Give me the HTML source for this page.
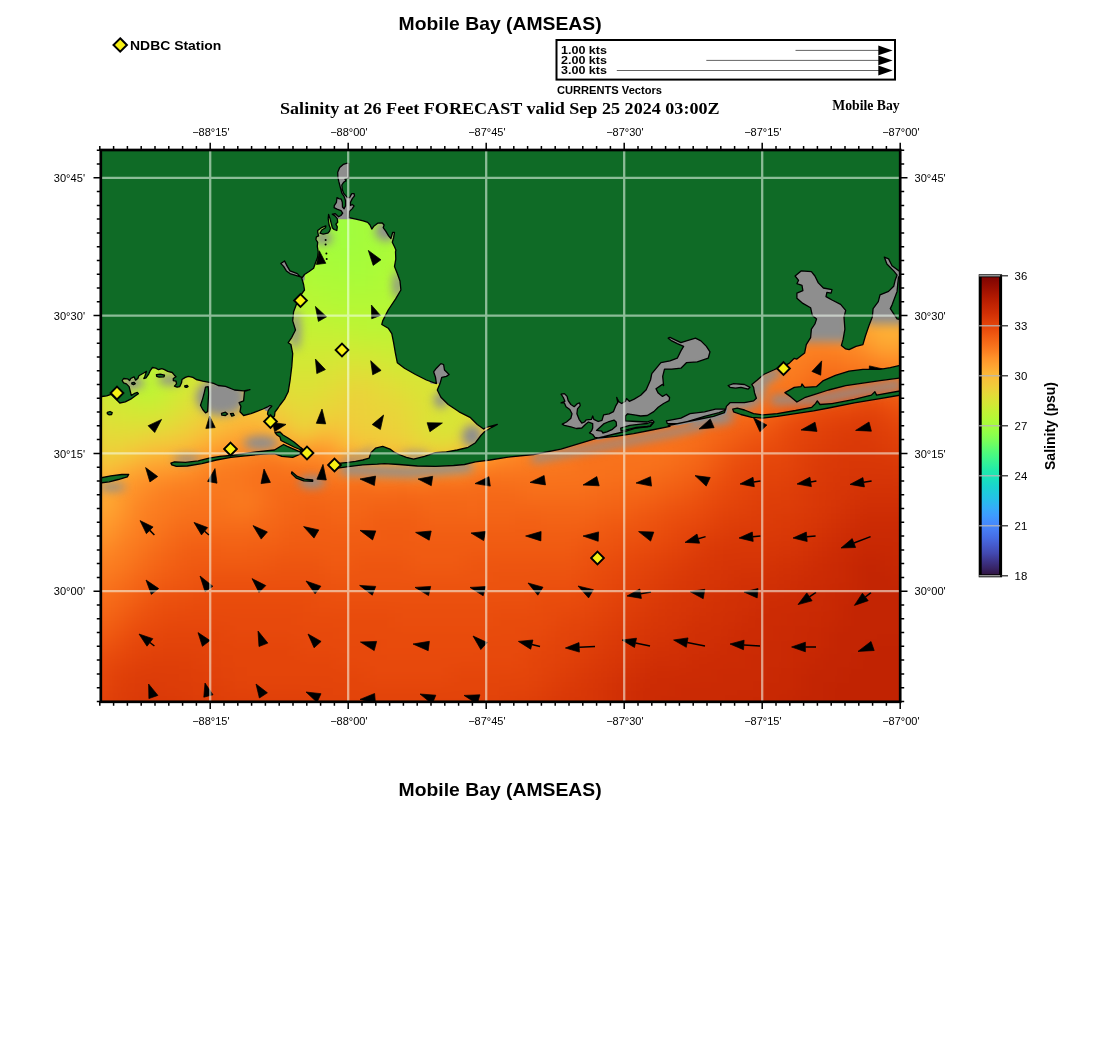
<!DOCTYPE html>
<html lang="en"><head><meta charset="utf-8"><title>Mobile Bay (AMSEAS)</title>
<style>
html,body{margin:0;padding:0;background:#fff}
body{width:1100px;height:1050px;overflow:hidden;font-family:"Liberation Sans",sans-serif}
svg{display:block}
.h{font-family:"Liberation Sans",sans-serif}
.t{font-family:"Liberation Serif",serif;font-weight:bold}
.ax{font-family:"Liberation Sans",sans-serif;font-size:10.6px;fill:#000}
</style></head><body>
<svg width="1100" height="1050" viewBox="0 0 1100 1050">
<defs>
<clipPath id="mc"><rect x="100.8" y="150" width="799.4" height="551.8"/></clipPath>
<filter id="bl" color-interpolation-filters="sRGB" x="-5%" y="-5%" width="110%" height="110%"><feGaussianBlur stdDeviation="9"/></filter>
<filter id="bg" color-interpolation-filters="sRGB" x="-30%" y="-30%" width="160%" height="160%"><feGaussianBlur stdDeviation="5"/></filter>
<linearGradient id="cb" x1="0" y1="1" x2="0" y2="0">
<stop offset="0.000" stop-color="#30123b"/>
<stop offset="0.025" stop-color="#372466"/>
<stop offset="0.050" stop-color="#3d358b"/>
<stop offset="0.075" stop-color="#4249b1"/>
<stop offset="0.100" stop-color="#4559cb"/>
<stop offset="0.125" stop-color="#466be3"/>
<stop offset="0.150" stop-color="#477bf2"/>
<stop offset="0.175" stop-color="#458afc"/>
<stop offset="0.200" stop-color="#3e9bfe"/>
<stop offset="0.225" stop-color="#35abf8"/>
<stop offset="0.250" stop-color="#28bceb"/>
<stop offset="0.275" stop-color="#1fc9dd"/>
<stop offset="0.300" stop-color="#19d5cd"/>
<stop offset="0.325" stop-color="#19e2bb"/>
<stop offset="0.350" stop-color="#20eaac"/>
<stop offset="0.375" stop-color="#32f298"/>
<stop offset="0.400" stop-color="#46f884"/>
<stop offset="0.425" stop-color="#5dfc6f"/>
<stop offset="0.450" stop-color="#79fe59"/>
<stop offset="0.475" stop-color="#8fff49"/>
<stop offset="0.500" stop-color="#a4fc3c"/>
<stop offset="0.525" stop-color="#b4f836"/>
<stop offset="0.550" stop-color="#c3f134"/>
<stop offset="0.575" stop-color="#d4e735"/>
<stop offset="0.600" stop-color="#e1dd37"/>
<stop offset="0.625" stop-color="#eecf3a"/>
<stop offset="0.650" stop-color="#f6c33a"/>
<stop offset="0.675" stop-color="#fbb637"/>
<stop offset="0.700" stop-color="#fea431"/>
<stop offset="0.725" stop-color="#fe932a"/>
<stop offset="0.750" stop-color="#fb7e21"/>
<stop offset="0.775" stop-color="#f66c19"/>
<stop offset="0.800" stop-color="#f05b12"/>
<stop offset="0.825" stop-color="#e7490c"/>
<stop offset="0.850" stop-color="#dd3d08"/>
<stop offset="0.875" stop-color="#d02f05"/>
<stop offset="0.900" stop-color="#c32503"/>
<stop offset="0.925" stop-color="#b41b01"/>
<stop offset="0.950" stop-color="#a11201"/>
<stop offset="0.975" stop-color="#8e0a01"/>
<stop offset="1.000" stop-color="#7a0403"/>
</linearGradient></defs>
<rect width="1100" height="1050" fill="#fff"/>
<g clip-path="url(#mc)">
<rect x="90" y="140" width="820" height="572" fill="#e4450a"/>
<g filter="url(#bl)">
<rect x="87" y="136" width="15" height="15" fill="#a7fc3a"/>
<rect x="101" y="136" width="99" height="15" fill="#a4fc3c"/>
<rect x="199" y="136" width="155" height="15" fill="#9ffd3f"/>
<rect x="353" y="136" width="15" height="15" fill="#a4fc3c"/>
<rect x="367" y="136" width="15" height="15" fill="#a7fc3a"/>
<rect x="381" y="136" width="15" height="15" fill="#a9fb39"/>
<rect x="395" y="136" width="15" height="15" fill="#affa37"/>
<rect x="409" y="136" width="15" height="15" fill="#b1f936"/>
<rect x="423" y="136" width="15" height="15" fill="#b7f735"/>
<rect x="437" y="136" width="15" height="15" fill="#bcf534"/>
<rect x="451" y="136" width="15" height="15" fill="#c1f334"/>
<rect x="465" y="136" width="15" height="15" fill="#c8ef34"/>
<rect x="479" y="136" width="15" height="15" fill="#cbed34"/>
<rect x="493" y="136" width="15" height="15" fill="#d2e935"/>
<rect x="507" y="136" width="15" height="15" fill="#d4e735"/>
<rect x="521" y="136" width="15" height="15" fill="#dbe236"/>
<rect x="535" y="136" width="15" height="15" fill="#dfdf37"/>
<rect x="549" y="136" width="15" height="15" fill="#e1dd37"/>
<rect x="563" y="136" width="15" height="15" fill="#e5d938"/>
<rect x="577" y="136" width="15" height="15" fill="#e9d539"/>
<rect x="591" y="136" width="15" height="15" fill="#ecd13a"/>
<rect x="605" y="136" width="15" height="15" fill="#eecf3a"/>
<rect x="619" y="136" width="15" height="15" fill="#f1cb3a"/>
<rect x="633" y="136" width="29" height="15" fill="#f2c93a"/>
<rect x="661" y="136" width="15" height="15" fill="#f4c73a"/>
<rect x="675" y="136" width="29" height="15" fill="#f6c33a"/>
<rect x="703" y="136" width="29" height="15" fill="#f7c13a"/>
<rect x="731" y="136" width="29" height="15" fill="#f9bc39"/>
<rect x="759" y="136" width="43" height="15" fill="#faba39"/>
<rect x="801" y="136" width="85" height="15" fill="#fbb637"/>
<rect x="885" y="136" width="43" height="15" fill="#fcb336"/>
<rect x="87" y="150" width="57" height="15" fill="#a7fc3a"/>
<rect x="143" y="150" width="85" height="15" fill="#a4fc3c"/>
<rect x="227" y="150" width="127" height="15" fill="#9ffd3f"/>
<rect x="353" y="150" width="15" height="15" fill="#a4fc3c"/>
<rect x="367" y="150" width="15" height="15" fill="#a7fc3a"/>
<rect x="381" y="150" width="15" height="15" fill="#a9fb39"/>
<rect x="395" y="150" width="15" height="15" fill="#affa37"/>
<rect x="409" y="150" width="15" height="15" fill="#b1f936"/>
<rect x="423" y="150" width="15" height="15" fill="#b9f635"/>
<rect x="437" y="150" width="15" height="15" fill="#bcf534"/>
<rect x="451" y="150" width="15" height="15" fill="#c3f134"/>
<rect x="465" y="150" width="15" height="15" fill="#c8ef34"/>
<rect x="479" y="150" width="15" height="15" fill="#d0ea34"/>
<rect x="493" y="150" width="15" height="15" fill="#d2e935"/>
<rect x="507" y="150" width="15" height="15" fill="#d9e436"/>
<rect x="521" y="150" width="15" height="15" fill="#dbe236"/>
<rect x="535" y="150" width="15" height="15" fill="#e1dd37"/>
<rect x="549" y="150" width="15" height="15" fill="#e5d938"/>
<rect x="563" y="150" width="15" height="15" fill="#e7d739"/>
<rect x="577" y="150" width="15" height="15" fill="#ecd13a"/>
<rect x="591" y="150" width="15" height="15" fill="#eecf3a"/>
<rect x="605" y="150" width="15" height="15" fill="#f1cb3a"/>
<rect x="619" y="150" width="15" height="15" fill="#f2c93a"/>
<rect x="633" y="150" width="29" height="15" fill="#f4c73a"/>
<rect x="661" y="150" width="15" height="15" fill="#f6c33a"/>
<rect x="675" y="150" width="29" height="15" fill="#f7c13a"/>
<rect x="703" y="150" width="29" height="15" fill="#f9bc39"/>
<rect x="731" y="150" width="29" height="15" fill="#faba39"/>
<rect x="759" y="150" width="57" height="15" fill="#fbb637"/>
<rect x="815" y="150" width="113" height="15" fill="#fcb336"/>
<rect x="87" y="164" width="99" height="15" fill="#a7fc3a"/>
<rect x="185" y="164" width="71" height="15" fill="#a4fc3c"/>
<rect x="255" y="164" width="99" height="15" fill="#9ffd3f"/>
<rect x="353" y="164" width="15" height="15" fill="#a4fc3c"/>
<rect x="367" y="164" width="15" height="15" fill="#a7fc3a"/>
<rect x="381" y="164" width="15" height="15" fill="#a9fb39"/>
<rect x="395" y="164" width="15" height="15" fill="#affa37"/>
<rect x="409" y="164" width="15" height="15" fill="#b1f936"/>
<rect x="423" y="164" width="15" height="15" fill="#b9f635"/>
<rect x="437" y="164" width="15" height="15" fill="#bcf534"/>
<rect x="451" y="164" width="15" height="15" fill="#c3f134"/>
<rect x="465" y="164" width="15" height="15" fill="#cbed34"/>
<rect x="479" y="164" width="15" height="15" fill="#d0ea34"/>
<rect x="493" y="164" width="15" height="15" fill="#d4e735"/>
<rect x="507" y="164" width="15" height="15" fill="#dbe236"/>
<rect x="521" y="164" width="15" height="15" fill="#dfdf37"/>
<rect x="535" y="164" width="15" height="15" fill="#e5d938"/>
<rect x="549" y="164" width="15" height="15" fill="#e7d739"/>
<rect x="563" y="164" width="15" height="15" fill="#ecd13a"/>
<rect x="577" y="164" width="15" height="15" fill="#eecf3a"/>
<rect x="591" y="164" width="15" height="15" fill="#f1cb3a"/>
<rect x="605" y="164" width="15" height="15" fill="#f2c93a"/>
<rect x="619" y="164" width="15" height="15" fill="#f4c73a"/>
<rect x="633" y="164" width="15" height="15" fill="#f6c33a"/>
<rect x="647" y="164" width="29" height="15" fill="#f7c13a"/>
<rect x="675" y="164" width="29" height="15" fill="#f9bc39"/>
<rect x="703" y="164" width="29" height="15" fill="#faba39"/>
<rect x="731" y="164" width="29" height="15" fill="#fbb637"/>
<rect x="759" y="164" width="57" height="15" fill="#fcb336"/>
<rect x="815" y="164" width="113" height="15" fill="#fcb136"/>
<rect x="87" y="178" width="43" height="15" fill="#a9fb39"/>
<rect x="129" y="178" width="99" height="15" fill="#a7fc3a"/>
<rect x="227" y="178" width="43" height="15" fill="#a4fc3c"/>
<rect x="269" y="178" width="85" height="15" fill="#9ffd3f"/>
<rect x="353" y="178" width="29" height="15" fill="#a4fc3c"/>
<rect x="381" y="178" width="15" height="15" fill="#a9fb39"/>
<rect x="395" y="178" width="15" height="15" fill="#affa37"/>
<rect x="409" y="178" width="15" height="15" fill="#b1f936"/>
<rect x="423" y="178" width="15" height="15" fill="#b9f635"/>
<rect x="437" y="178" width="15" height="15" fill="#c1f334"/>
<rect x="451" y="178" width="15" height="15" fill="#c8ef34"/>
<rect x="465" y="178" width="15" height="15" fill="#cbed34"/>
<rect x="479" y="178" width="15" height="15" fill="#d2e935"/>
<rect x="493" y="178" width="15" height="15" fill="#d9e436"/>
<rect x="507" y="178" width="15" height="15" fill="#dfdf37"/>
<rect x="521" y="178" width="15" height="15" fill="#e1dd37"/>
<rect x="535" y="178" width="15" height="15" fill="#e7d739"/>
<rect x="549" y="178" width="15" height="15" fill="#e9d539"/>
<rect x="563" y="178" width="15" height="15" fill="#eecf3a"/>
<rect x="577" y="178" width="15" height="15" fill="#f1cb3a"/>
<rect x="591" y="178" width="15" height="15" fill="#f2c93a"/>
<rect x="605" y="178" width="15" height="15" fill="#f4c73a"/>
<rect x="619" y="178" width="15" height="15" fill="#f6c33a"/>
<rect x="633" y="178" width="15" height="15" fill="#f7c13a"/>
<rect x="647" y="178" width="15" height="15" fill="#f9bc39"/>
<rect x="661" y="178" width="29" height="15" fill="#faba39"/>
<rect x="689" y="178" width="43" height="15" fill="#fbb637"/>
<rect x="731" y="178" width="43" height="15" fill="#fcb336"/>
<rect x="773" y="178" width="57" height="15" fill="#fcb136"/>
<rect x="829" y="178" width="71" height="15" fill="#fdac34"/>
<rect x="899" y="178" width="15" height="15" fill="#fcb136"/>
<rect x="913" y="178" width="15" height="15" fill="#fdac34"/>
<rect x="87" y="192" width="113" height="15" fill="#a9fb39"/>
<rect x="199" y="192" width="57" height="15" fill="#a7fc3a"/>
<rect x="255" y="192" width="43" height="15" fill="#a4fc3c"/>
<rect x="297" y="192" width="57" height="15" fill="#9ffd3f"/>
<rect x="353" y="192" width="29" height="15" fill="#a4fc3c"/>
<rect x="381" y="192" width="15" height="15" fill="#a9fb39"/>
<rect x="395" y="192" width="15" height="15" fill="#affa37"/>
<rect x="409" y="192" width="15" height="15" fill="#b7f735"/>
<rect x="423" y="192" width="15" height="15" fill="#b9f635"/>
<rect x="437" y="192" width="15" height="15" fill="#c1f334"/>
<rect x="451" y="192" width="15" height="15" fill="#c8ef34"/>
<rect x="465" y="192" width="15" height="15" fill="#d0ea34"/>
<rect x="479" y="192" width="15" height="15" fill="#d4e735"/>
<rect x="493" y="192" width="15" height="15" fill="#dbe236"/>
<rect x="507" y="192" width="15" height="15" fill="#e1dd37"/>
<rect x="521" y="192" width="15" height="15" fill="#e5d938"/>
<rect x="535" y="192" width="15" height="15" fill="#e9d539"/>
<rect x="549" y="192" width="15" height="15" fill="#eecf3a"/>
<rect x="563" y="192" width="15" height="15" fill="#f1cb3a"/>
<rect x="577" y="192" width="15" height="15" fill="#f2c93a"/>
<rect x="591" y="192" width="15" height="15" fill="#f6c33a"/>
<rect x="605" y="192" width="15" height="15" fill="#f7c13a"/>
<rect x="619" y="192" width="29" height="15" fill="#f9bc39"/>
<rect x="647" y="192" width="15" height="15" fill="#faba39"/>
<rect x="661" y="192" width="29" height="15" fill="#fbb637"/>
<rect x="689" y="192" width="29" height="15" fill="#fcb336"/>
<rect x="717" y="192" width="57" height="15" fill="#fcb136"/>
<rect x="773" y="192" width="155" height="15" fill="#fdac34"/>
<rect x="87" y="206" width="71" height="15" fill="#affa37"/>
<rect x="157" y="206" width="85" height="15" fill="#a9fb39"/>
<rect x="241" y="206" width="29" height="15" fill="#a7fc3a"/>
<rect x="269" y="206" width="43" height="15" fill="#a4fc3c"/>
<rect x="311" y="206" width="43" height="15" fill="#9ffd3f"/>
<rect x="353" y="206" width="29" height="15" fill="#a4fc3c"/>
<rect x="381" y="206" width="15" height="15" fill="#a9fb39"/>
<rect x="395" y="206" width="15" height="15" fill="#affa37"/>
<rect x="409" y="206" width="15" height="15" fill="#b7f735"/>
<rect x="423" y="206" width="15" height="15" fill="#bcf534"/>
<rect x="437" y="206" width="15" height="15" fill="#c3f134"/>
<rect x="451" y="206" width="15" height="15" fill="#cbed34"/>
<rect x="465" y="206" width="15" height="15" fill="#d2e935"/>
<rect x="479" y="206" width="15" height="15" fill="#d9e436"/>
<rect x="493" y="206" width="15" height="15" fill="#dfdf37"/>
<rect x="507" y="206" width="15" height="15" fill="#e5d938"/>
<rect x="521" y="206" width="15" height="15" fill="#e9d539"/>
<rect x="535" y="206" width="15" height="15" fill="#ecd13a"/>
<rect x="549" y="206" width="15" height="15" fill="#f1cb3a"/>
<rect x="563" y="206" width="15" height="15" fill="#f4c73a"/>
<rect x="577" y="206" width="15" height="15" fill="#f6c33a"/>
<rect x="591" y="206" width="15" height="15" fill="#f7c13a"/>
<rect x="605" y="206" width="15" height="15" fill="#f9bc39"/>
<rect x="619" y="206" width="15" height="15" fill="#faba39"/>
<rect x="633" y="206" width="15" height="15" fill="#fbb637"/>
<rect x="647" y="206" width="29" height="15" fill="#fcb336"/>
<rect x="675" y="206" width="43" height="15" fill="#fcb136"/>
<rect x="717" y="206" width="57" height="15" fill="#fdac34"/>
<rect x="773" y="206" width="127" height="15" fill="#fea933"/>
<rect x="899" y="206" width="29" height="15" fill="#fdac34"/>
<rect x="87" y="220" width="141" height="15" fill="#affa37"/>
<rect x="227" y="220" width="43" height="15" fill="#a9fb39"/>
<rect x="269" y="220" width="29" height="15" fill="#a7fc3a"/>
<rect x="297" y="220" width="29" height="15" fill="#a4fc3c"/>
<rect x="325" y="220" width="29" height="15" fill="#9ffd3f"/>
<rect x="353" y="220" width="15" height="15" fill="#a4fc3c"/>
<rect x="367" y="220" width="15" height="15" fill="#a7fc3a"/>
<rect x="381" y="220" width="15" height="15" fill="#a9fb39"/>
<rect x="395" y="220" width="15" height="15" fill="#affa37"/>
<rect x="409" y="220" width="15" height="15" fill="#b7f735"/>
<rect x="423" y="220" width="15" height="15" fill="#bcf534"/>
<rect x="437" y="220" width="15" height="15" fill="#c3f134"/>
<rect x="451" y="220" width="15" height="15" fill="#cbed34"/>
<rect x="465" y="220" width="15" height="15" fill="#d4e735"/>
<rect x="479" y="220" width="15" height="15" fill="#dbe236"/>
<rect x="493" y="220" width="15" height="15" fill="#e1dd37"/>
<rect x="507" y="220" width="15" height="15" fill="#e7d739"/>
<rect x="521" y="220" width="15" height="15" fill="#ecd13a"/>
<rect x="535" y="220" width="15" height="15" fill="#f1cb3a"/>
<rect x="549" y="220" width="15" height="15" fill="#f2c93a"/>
<rect x="563" y="220" width="15" height="15" fill="#f6c33a"/>
<rect x="577" y="220" width="15" height="15" fill="#f7c13a"/>
<rect x="591" y="220" width="15" height="15" fill="#faba39"/>
<rect x="605" y="220" width="15" height="15" fill="#fbb637"/>
<rect x="619" y="220" width="29" height="15" fill="#fcb336"/>
<rect x="647" y="220" width="15" height="15" fill="#fcb136"/>
<rect x="661" y="220" width="43" height="15" fill="#fdac34"/>
<rect x="703" y="220" width="71" height="15" fill="#fea933"/>
<rect x="773" y="220" width="99" height="15" fill="#fea431"/>
<rect x="871" y="220" width="57" height="15" fill="#fea933"/>
<rect x="87" y="234" width="141" height="15" fill="#b1f936"/>
<rect x="227" y="234" width="29" height="15" fill="#affa37"/>
<rect x="255" y="234" width="29" height="15" fill="#a9fb39"/>
<rect x="283" y="234" width="29" height="15" fill="#a7fc3a"/>
<rect x="311" y="234" width="29" height="15" fill="#a4fc3c"/>
<rect x="339" y="234" width="15" height="15" fill="#9ffd3f"/>
<rect x="353" y="234" width="15" height="15" fill="#a4fc3c"/>
<rect x="367" y="234" width="15" height="15" fill="#a7fc3a"/>
<rect x="381" y="234" width="15" height="15" fill="#a9fb39"/>
<rect x="395" y="234" width="15" height="15" fill="#b1f936"/>
<rect x="409" y="234" width="15" height="15" fill="#b9f635"/>
<rect x="423" y="234" width="15" height="15" fill="#c1f334"/>
<rect x="437" y="234" width="15" height="15" fill="#c8ef34"/>
<rect x="451" y="234" width="15" height="15" fill="#d0ea34"/>
<rect x="465" y="234" width="15" height="15" fill="#d4e735"/>
<rect x="479" y="234" width="15" height="15" fill="#dfdf37"/>
<rect x="493" y="234" width="15" height="15" fill="#e5d938"/>
<rect x="507" y="234" width="15" height="15" fill="#e9d539"/>
<rect x="521" y="234" width="15" height="15" fill="#eecf3a"/>
<rect x="535" y="234" width="15" height="15" fill="#f2c93a"/>
<rect x="549" y="234" width="15" height="15" fill="#f6c33a"/>
<rect x="563" y="234" width="15" height="15" fill="#f9bc39"/>
<rect x="577" y="234" width="15" height="15" fill="#faba39"/>
<rect x="591" y="234" width="15" height="15" fill="#fbb637"/>
<rect x="605" y="234" width="15" height="15" fill="#fcb336"/>
<rect x="619" y="234" width="15" height="15" fill="#fcb136"/>
<rect x="633" y="234" width="15" height="15" fill="#fdac34"/>
<rect x="647" y="234" width="43" height="15" fill="#fea933"/>
<rect x="689" y="234" width="99" height="15" fill="#fea431"/>
<rect x="787" y="234" width="85" height="15" fill="#fea130"/>
<rect x="871" y="234" width="15" height="15" fill="#fea431"/>
<rect x="885" y="234" width="43" height="15" fill="#fea933"/>
<rect x="87" y="248" width="57" height="15" fill="#b1f936"/>
<rect x="143" y="248" width="99" height="15" fill="#b7f735"/>
<rect x="241" y="248" width="15" height="15" fill="#b1f936"/>
<rect x="255" y="248" width="29" height="15" fill="#affa37"/>
<rect x="283" y="248" width="29" height="15" fill="#a9fb39"/>
<rect x="311" y="248" width="29" height="15" fill="#a7fc3a"/>
<rect x="339" y="248" width="15" height="15" fill="#a4fc3c"/>
<rect x="353" y="248" width="29" height="15" fill="#a7fc3a"/>
<rect x="381" y="248" width="15" height="15" fill="#a9fb39"/>
<rect x="395" y="248" width="15" height="15" fill="#b1f936"/>
<rect x="409" y="248" width="15" height="15" fill="#b9f635"/>
<rect x="423" y="248" width="15" height="15" fill="#c1f334"/>
<rect x="437" y="248" width="15" height="15" fill="#c8ef34"/>
<rect x="451" y="248" width="15" height="15" fill="#d2e935"/>
<rect x="465" y="248" width="15" height="15" fill="#d9e436"/>
<rect x="479" y="248" width="15" height="15" fill="#e1dd37"/>
<rect x="493" y="248" width="15" height="15" fill="#e7d739"/>
<rect x="507" y="248" width="15" height="15" fill="#eecf3a"/>
<rect x="521" y="248" width="15" height="15" fill="#f2c93a"/>
<rect x="535" y="248" width="15" height="15" fill="#f6c33a"/>
<rect x="549" y="248" width="15" height="15" fill="#f9bc39"/>
<rect x="563" y="248" width="15" height="15" fill="#faba39"/>
<rect x="577" y="248" width="15" height="15" fill="#fcb336"/>
<rect x="591" y="248" width="15" height="15" fill="#fcb136"/>
<rect x="605" y="248" width="15" height="15" fill="#fdac34"/>
<rect x="619" y="248" width="15" height="15" fill="#fea933"/>
<rect x="633" y="248" width="43" height="15" fill="#fea431"/>
<rect x="675" y="248" width="155" height="15" fill="#fea130"/>
<rect x="829" y="248" width="29" height="15" fill="#fe9b2d"/>
<rect x="857" y="248" width="15" height="15" fill="#fea130"/>
<rect x="871" y="248" width="15" height="15" fill="#fea431"/>
<rect x="885" y="248" width="43" height="15" fill="#fea933"/>
<rect x="87" y="262" width="71" height="15" fill="#b7f735"/>
<rect x="157" y="262" width="85" height="15" fill="#b9f635"/>
<rect x="241" y="262" width="29" height="15" fill="#b7f735"/>
<rect x="269" y="262" width="15" height="15" fill="#b1f936"/>
<rect x="283" y="262" width="29" height="15" fill="#affa37"/>
<rect x="311" y="262" width="29" height="15" fill="#a9fb39"/>
<rect x="339" y="262" width="29" height="15" fill="#a7fc3a"/>
<rect x="367" y="262" width="15" height="15" fill="#a9fb39"/>
<rect x="381" y="262" width="15" height="15" fill="#affa37"/>
<rect x="395" y="262" width="15" height="15" fill="#b1f936"/>
<rect x="409" y="262" width="15" height="15" fill="#b9f635"/>
<rect x="423" y="262" width="15" height="15" fill="#c3f134"/>
<rect x="437" y="262" width="15" height="15" fill="#cbed34"/>
<rect x="451" y="262" width="15" height="15" fill="#d4e735"/>
<rect x="465" y="262" width="15" height="15" fill="#dbe236"/>
<rect x="479" y="262" width="15" height="15" fill="#e5d938"/>
<rect x="493" y="262" width="15" height="15" fill="#ecd13a"/>
<rect x="507" y="262" width="15" height="15" fill="#f1cb3a"/>
<rect x="521" y="262" width="15" height="15" fill="#f4c73a"/>
<rect x="535" y="262" width="15" height="15" fill="#f7c13a"/>
<rect x="549" y="262" width="15" height="15" fill="#faba39"/>
<rect x="563" y="262" width="15" height="15" fill="#fcb336"/>
<rect x="577" y="262" width="15" height="15" fill="#fdac34"/>
<rect x="591" y="262" width="15" height="15" fill="#fea933"/>
<rect x="605" y="262" width="15" height="15" fill="#fea431"/>
<rect x="619" y="262" width="29" height="15" fill="#fea130"/>
<rect x="647" y="262" width="197" height="15" fill="#fe9b2d"/>
<rect x="843" y="262" width="15" height="15" fill="#fea130"/>
<rect x="857" y="262" width="29" height="15" fill="#fea431"/>
<rect x="885" y="262" width="43" height="15" fill="#fea933"/>
<rect x="87" y="276" width="43" height="15" fill="#b7f735"/>
<rect x="129" y="276" width="43" height="15" fill="#b9f635"/>
<rect x="171" y="276" width="15" height="15" fill="#bcf534"/>
<rect x="185" y="276" width="43" height="15" fill="#c1f334"/>
<rect x="227" y="276" width="15" height="15" fill="#bcf534"/>
<rect x="241" y="276" width="29" height="15" fill="#b9f635"/>
<rect x="269" y="276" width="29" height="15" fill="#b7f735"/>
<rect x="297" y="276" width="15" height="15" fill="#b1f936"/>
<rect x="311" y="276" width="43" height="15" fill="#affa37"/>
<rect x="353" y="276" width="15" height="15" fill="#a9fb39"/>
<rect x="367" y="276" width="29" height="15" fill="#affa37"/>
<rect x="395" y="276" width="15" height="15" fill="#b7f735"/>
<rect x="409" y="276" width="15" height="15" fill="#bcf534"/>
<rect x="423" y="276" width="15" height="15" fill="#c3f134"/>
<rect x="437" y="276" width="15" height="15" fill="#d0ea34"/>
<rect x="451" y="276" width="15" height="15" fill="#d4e735"/>
<rect x="465" y="276" width="15" height="15" fill="#dfdf37"/>
<rect x="479" y="276" width="15" height="15" fill="#e7d739"/>
<rect x="493" y="276" width="15" height="15" fill="#eecf3a"/>
<rect x="507" y="276" width="15" height="15" fill="#f4c73a"/>
<rect x="521" y="276" width="15" height="15" fill="#f7c13a"/>
<rect x="535" y="276" width="15" height="15" fill="#faba39"/>
<rect x="549" y="276" width="15" height="15" fill="#fcb336"/>
<rect x="563" y="276" width="15" height="15" fill="#fdac34"/>
<rect x="577" y="276" width="15" height="15" fill="#fea431"/>
<rect x="591" y="276" width="15" height="15" fill="#fea130"/>
<rect x="605" y="276" width="15" height="15" fill="#fe9b2d"/>
<rect x="619" y="276" width="197" height="15" fill="#fe992c"/>
<rect x="815" y="276" width="29" height="15" fill="#fe9b2d"/>
<rect x="843" y="276" width="15" height="15" fill="#fea130"/>
<rect x="857" y="276" width="15" height="15" fill="#fea431"/>
<rect x="871" y="276" width="57" height="15" fill="#fea933"/>
<rect x="87" y="290" width="71" height="15" fill="#b9f635"/>
<rect x="157" y="290" width="15" height="15" fill="#bcf534"/>
<rect x="171" y="290" width="15" height="15" fill="#c1f334"/>
<rect x="185" y="290" width="43" height="15" fill="#c3f134"/>
<rect x="227" y="290" width="29" height="15" fill="#c1f334"/>
<rect x="255" y="290" width="29" height="15" fill="#bcf534"/>
<rect x="283" y="290" width="15" height="15" fill="#b9f635"/>
<rect x="297" y="290" width="29" height="15" fill="#b7f735"/>
<rect x="325" y="290" width="71" height="15" fill="#b1f936"/>
<rect x="395" y="290" width="15" height="15" fill="#b9f635"/>
<rect x="409" y="290" width="15" height="15" fill="#c1f334"/>
<rect x="423" y="290" width="15" height="15" fill="#c8ef34"/>
<rect x="437" y="290" width="15" height="15" fill="#d0ea34"/>
<rect x="451" y="290" width="15" height="15" fill="#d9e436"/>
<rect x="465" y="290" width="15" height="15" fill="#e1dd37"/>
<rect x="479" y="290" width="15" height="15" fill="#e9d539"/>
<rect x="493" y="290" width="15" height="15" fill="#f2c93a"/>
<rect x="507" y="290" width="15" height="15" fill="#f6c33a"/>
<rect x="521" y="290" width="15" height="15" fill="#f9bc39"/>
<rect x="535" y="290" width="15" height="15" fill="#fcb336"/>
<rect x="549" y="290" width="15" height="15" fill="#fdac34"/>
<rect x="563" y="290" width="15" height="15" fill="#fea431"/>
<rect x="577" y="290" width="15" height="15" fill="#fe9b2d"/>
<rect x="591" y="290" width="15" height="15" fill="#fe992c"/>
<rect x="605" y="290" width="15" height="15" fill="#fe962b"/>
<rect x="619" y="290" width="85" height="15" fill="#fe9029"/>
<rect x="703" y="290" width="85" height="15" fill="#fe962b"/>
<rect x="787" y="290" width="43" height="15" fill="#fe992c"/>
<rect x="829" y="290" width="15" height="15" fill="#fe9b2d"/>
<rect x="843" y="290" width="15" height="15" fill="#fea130"/>
<rect x="857" y="290" width="15" height="15" fill="#fea431"/>
<rect x="871" y="290" width="15" height="15" fill="#fea933"/>
<rect x="885" y="290" width="29" height="15" fill="#fdac34"/>
<rect x="913" y="290" width="15" height="15" fill="#fea933"/>
<rect x="87" y="304" width="57" height="15" fill="#b9f635"/>
<rect x="143" y="304" width="15" height="15" fill="#bcf534"/>
<rect x="157" y="304" width="29" height="15" fill="#c1f334"/>
<rect x="185" y="304" width="15" height="15" fill="#c3f134"/>
<rect x="199" y="304" width="29" height="15" fill="#c8ef34"/>
<rect x="227" y="304" width="43" height="15" fill="#c3f134"/>
<rect x="269" y="304" width="15" height="15" fill="#c1f334"/>
<rect x="283" y="304" width="29" height="15" fill="#bcf534"/>
<rect x="311" y="304" width="29" height="15" fill="#b9f635"/>
<rect x="339" y="304" width="57" height="15" fill="#b7f735"/>
<rect x="395" y="304" width="15" height="15" fill="#b9f635"/>
<rect x="409" y="304" width="15" height="15" fill="#c1f334"/>
<rect x="423" y="304" width="15" height="15" fill="#cbed34"/>
<rect x="437" y="304" width="15" height="15" fill="#d2e935"/>
<rect x="451" y="304" width="15" height="15" fill="#dbe236"/>
<rect x="465" y="304" width="15" height="15" fill="#e5d938"/>
<rect x="479" y="304" width="15" height="15" fill="#ecd13a"/>
<rect x="493" y="304" width="15" height="15" fill="#f2c93a"/>
<rect x="507" y="304" width="15" height="15" fill="#f7c13a"/>
<rect x="521" y="304" width="15" height="15" fill="#fbb637"/>
<rect x="535" y="304" width="15" height="15" fill="#fcb136"/>
<rect x="549" y="304" width="15" height="15" fill="#fea431"/>
<rect x="563" y="304" width="15" height="15" fill="#fe9b2d"/>
<rect x="577" y="304" width="15" height="15" fill="#fe962b"/>
<rect x="591" y="304" width="15" height="15" fill="#fe9029"/>
<rect x="605" y="304" width="15" height="15" fill="#fd8d27"/>
<rect x="619" y="304" width="43" height="15" fill="#fc8725"/>
<rect x="661" y="304" width="43" height="15" fill="#fd8d27"/>
<rect x="703" y="304" width="85" height="15" fill="#fe9029"/>
<rect x="787" y="304" width="43" height="15" fill="#fe962b"/>
<rect x="829" y="304" width="15" height="15" fill="#fe992c"/>
<rect x="843" y="304" width="15" height="15" fill="#fea130"/>
<rect x="857" y="304" width="15" height="15" fill="#fea431"/>
<rect x="871" y="304" width="43" height="15" fill="#fdac34"/>
<rect x="913" y="304" width="15" height="15" fill="#fea933"/>
<rect x="87" y="318" width="29" height="15" fill="#bcf534"/>
<rect x="115" y="318" width="15" height="15" fill="#b9f635"/>
<rect x="129" y="318" width="29" height="15" fill="#bcf534"/>
<rect x="157" y="318" width="15" height="15" fill="#c1f334"/>
<rect x="171" y="318" width="15" height="15" fill="#c3f134"/>
<rect x="185" y="318" width="29" height="15" fill="#c8ef34"/>
<rect x="213" y="318" width="29" height="15" fill="#cbed34"/>
<rect x="241" y="318" width="43" height="15" fill="#c8ef34"/>
<rect x="283" y="318" width="29" height="15" fill="#c3f134"/>
<rect x="311" y="318" width="29" height="15" fill="#c1f334"/>
<rect x="339" y="318" width="29" height="15" fill="#bcf534"/>
<rect x="367" y="318" width="29" height="15" fill="#b9f635"/>
<rect x="395" y="318" width="15" height="15" fill="#c1f334"/>
<rect x="409" y="318" width="15" height="15" fill="#c3f134"/>
<rect x="423" y="318" width="15" height="15" fill="#cbed34"/>
<rect x="437" y="318" width="15" height="15" fill="#d4e735"/>
<rect x="451" y="318" width="15" height="15" fill="#dbe236"/>
<rect x="465" y="318" width="15" height="15" fill="#e5d938"/>
<rect x="479" y="318" width="15" height="15" fill="#ecd13a"/>
<rect x="493" y="318" width="15" height="15" fill="#f2c93a"/>
<rect x="507" y="318" width="15" height="15" fill="#f9bc39"/>
<rect x="521" y="318" width="15" height="15" fill="#fcb336"/>
<rect x="535" y="318" width="15" height="15" fill="#fdac34"/>
<rect x="549" y="318" width="15" height="15" fill="#fea130"/>
<rect x="563" y="318" width="15" height="15" fill="#fe962b"/>
<rect x="577" y="318" width="15" height="15" fill="#fd8d27"/>
<rect x="591" y="318" width="85" height="15" fill="#fc8423"/>
<rect x="675" y="318" width="43" height="15" fill="#fc8725"/>
<rect x="717" y="318" width="85" height="15" fill="#fd8d27"/>
<rect x="801" y="318" width="29" height="15" fill="#fe9029"/>
<rect x="829" y="318" width="15" height="15" fill="#fe962b"/>
<rect x="843" y="318" width="15" height="15" fill="#fe9b2d"/>
<rect x="857" y="318" width="15" height="15" fill="#fea431"/>
<rect x="871" y="318" width="15" height="15" fill="#fdac34"/>
<rect x="885" y="318" width="15" height="15" fill="#fcb136"/>
<rect x="899" y="318" width="15" height="15" fill="#fdac34"/>
<rect x="913" y="318" width="15" height="15" fill="#fea431"/>
<rect x="87" y="332" width="71" height="15" fill="#bcf534"/>
<rect x="157" y="332" width="15" height="15" fill="#c1f334"/>
<rect x="171" y="332" width="15" height="15" fill="#c3f134"/>
<rect x="185" y="332" width="15" height="15" fill="#c8ef34"/>
<rect x="199" y="332" width="15" height="15" fill="#cbed34"/>
<rect x="213" y="332" width="57" height="15" fill="#d0ea34"/>
<rect x="269" y="332" width="29" height="15" fill="#cbed34"/>
<rect x="297" y="332" width="57" height="15" fill="#c8ef34"/>
<rect x="353" y="332" width="57" height="15" fill="#c3f134"/>
<rect x="409" y="332" width="15" height="15" fill="#cbed34"/>
<rect x="423" y="332" width="15" height="15" fill="#d0ea34"/>
<rect x="437" y="332" width="15" height="15" fill="#d4e735"/>
<rect x="451" y="332" width="15" height="15" fill="#dbe236"/>
<rect x="465" y="332" width="15" height="15" fill="#e5d938"/>
<rect x="479" y="332" width="15" height="15" fill="#ecd13a"/>
<rect x="493" y="332" width="15" height="15" fill="#f4c73a"/>
<rect x="507" y="332" width="15" height="15" fill="#f9bc39"/>
<rect x="521" y="332" width="15" height="15" fill="#fcb336"/>
<rect x="535" y="332" width="15" height="15" fill="#fea431"/>
<rect x="549" y="332" width="15" height="15" fill="#fe992c"/>
<rect x="563" y="332" width="15" height="15" fill="#fd8d27"/>
<rect x="577" y="332" width="15" height="15" fill="#fc8423"/>
<rect x="591" y="332" width="57" height="15" fill="#fa7b1f"/>
<rect x="647" y="332" width="29" height="15" fill="#fb7e21"/>
<rect x="675" y="332" width="43" height="15" fill="#fc8423"/>
<rect x="717" y="332" width="113" height="15" fill="#fc8725"/>
<rect x="829" y="332" width="15" height="15" fill="#fd8d27"/>
<rect x="843" y="332" width="15" height="15" fill="#fe9029"/>
<rect x="857" y="332" width="15" height="15" fill="#fe9b2d"/>
<rect x="871" y="332" width="15" height="15" fill="#fdac34"/>
<rect x="885" y="332" width="15" height="15" fill="#fcb136"/>
<rect x="899" y="332" width="15" height="15" fill="#fea933"/>
<rect x="913" y="332" width="15" height="15" fill="#fe9b2d"/>
<rect x="87" y="346" width="29" height="15" fill="#c1f334"/>
<rect x="115" y="346" width="43" height="15" fill="#bcf534"/>
<rect x="157" y="346" width="15" height="15" fill="#c1f334"/>
<rect x="171" y="346" width="15" height="15" fill="#c3f134"/>
<rect x="185" y="346" width="15" height="15" fill="#cbed34"/>
<rect x="199" y="346" width="15" height="15" fill="#d0ea34"/>
<rect x="213" y="346" width="15" height="15" fill="#d2e935"/>
<rect x="227" y="346" width="43" height="15" fill="#d4e735"/>
<rect x="269" y="346" width="15" height="15" fill="#d2e935"/>
<rect x="283" y="346" width="57" height="15" fill="#d0ea34"/>
<rect x="339" y="346" width="15" height="15" fill="#d2e935"/>
<rect x="353" y="346" width="29" height="15" fill="#d0ea34"/>
<rect x="381" y="346" width="29" height="15" fill="#cbed34"/>
<rect x="409" y="346" width="15" height="15" fill="#d0ea34"/>
<rect x="423" y="346" width="15" height="15" fill="#d2e935"/>
<rect x="437" y="346" width="15" height="15" fill="#d9e436"/>
<rect x="451" y="346" width="15" height="15" fill="#dfdf37"/>
<rect x="465" y="346" width="15" height="15" fill="#e5d938"/>
<rect x="479" y="346" width="15" height="15" fill="#ecd13a"/>
<rect x="493" y="346" width="15" height="15" fill="#f4c73a"/>
<rect x="507" y="346" width="15" height="15" fill="#faba39"/>
<rect x="521" y="346" width="15" height="15" fill="#fcb136"/>
<rect x="535" y="346" width="15" height="15" fill="#fea130"/>
<rect x="549" y="346" width="15" height="15" fill="#fe962b"/>
<rect x="563" y="346" width="15" height="15" fill="#fc8725"/>
<rect x="577" y="346" width="15" height="15" fill="#fa7b1f"/>
<rect x="591" y="346" width="29" height="15" fill="#f8721c"/>
<rect x="619" y="346" width="29" height="15" fill="#f9781e"/>
<rect x="647" y="346" width="29" height="15" fill="#fa7b1f"/>
<rect x="675" y="346" width="29" height="15" fill="#fb7e21"/>
<rect x="703" y="346" width="99" height="15" fill="#fc8423"/>
<rect x="801" y="346" width="43" height="15" fill="#fb7e21"/>
<rect x="843" y="346" width="15" height="15" fill="#fc8423"/>
<rect x="857" y="346" width="15" height="15" fill="#fc8725"/>
<rect x="871" y="346" width="15" height="15" fill="#fe992c"/>
<rect x="885" y="346" width="15" height="15" fill="#fe9b2d"/>
<rect x="899" y="346" width="15" height="15" fill="#fe992c"/>
<rect x="913" y="346" width="15" height="15" fill="#fe962b"/>
<rect x="87" y="360" width="15" height="15" fill="#c3f134"/>
<rect x="101" y="360" width="29" height="15" fill="#c1f334"/>
<rect x="129" y="360" width="29" height="15" fill="#bcf534"/>
<rect x="157" y="360" width="15" height="15" fill="#c1f334"/>
<rect x="171" y="360" width="15" height="15" fill="#c8ef34"/>
<rect x="185" y="360" width="15" height="15" fill="#d0ea34"/>
<rect x="199" y="360" width="15" height="15" fill="#d4e735"/>
<rect x="213" y="360" width="15" height="15" fill="#d9e436"/>
<rect x="227" y="360" width="43" height="15" fill="#dbe236"/>
<rect x="269" y="360" width="15" height="15" fill="#d9e436"/>
<rect x="283" y="360" width="43" height="15" fill="#d4e735"/>
<rect x="325" y="360" width="15" height="15" fill="#d9e436"/>
<rect x="339" y="360" width="29" height="15" fill="#dbe236"/>
<rect x="367" y="360" width="15" height="15" fill="#d9e436"/>
<rect x="381" y="360" width="15" height="15" fill="#d4e735"/>
<rect x="395" y="360" width="29" height="15" fill="#d2e935"/>
<rect x="423" y="360" width="15" height="15" fill="#d4e735"/>
<rect x="437" y="360" width="15" height="15" fill="#d9e436"/>
<rect x="451" y="360" width="15" height="15" fill="#dfdf37"/>
<rect x="465" y="360" width="15" height="15" fill="#e5d938"/>
<rect x="479" y="360" width="15" height="15" fill="#ecd13a"/>
<rect x="493" y="360" width="15" height="15" fill="#f4c73a"/>
<rect x="507" y="360" width="15" height="15" fill="#faba39"/>
<rect x="521" y="360" width="15" height="15" fill="#fdac34"/>
<rect x="535" y="360" width="15" height="15" fill="#fe9b2d"/>
<rect x="549" y="360" width="15" height="15" fill="#fe9029"/>
<rect x="563" y="360" width="15" height="15" fill="#fc8423"/>
<rect x="577" y="360" width="15" height="15" fill="#fa7b1f"/>
<rect x="591" y="360" width="43" height="15" fill="#f8721c"/>
<rect x="633" y="360" width="29" height="15" fill="#f9781e"/>
<rect x="661" y="360" width="43" height="15" fill="#fa7b1f"/>
<rect x="703" y="360" width="57" height="15" fill="#fb7e21"/>
<rect x="759" y="360" width="15" height="15" fill="#fc8423"/>
<rect x="773" y="360" width="29" height="15" fill="#fb7e21"/>
<rect x="801" y="360" width="15" height="15" fill="#f9781e"/>
<rect x="815" y="360" width="29" height="15" fill="#f8721c"/>
<rect x="843" y="360" width="15" height="15" fill="#f9781e"/>
<rect x="857" y="360" width="15" height="15" fill="#fa7b1f"/>
<rect x="871" y="360" width="15" height="15" fill="#fb7e21"/>
<rect x="885" y="360" width="43" height="15" fill="#fc8423"/>
<rect x="87" y="374" width="15" height="15" fill="#cbed34"/>
<rect x="101" y="374" width="15" height="15" fill="#c8ef34"/>
<rect x="115" y="374" width="15" height="15" fill="#c3f134"/>
<rect x="129" y="374" width="29" height="15" fill="#bcf534"/>
<rect x="157" y="374" width="15" height="15" fill="#c1f334"/>
<rect x="171" y="374" width="15" height="15" fill="#cbed34"/>
<rect x="185" y="374" width="15" height="15" fill="#d2e935"/>
<rect x="199" y="374" width="15" height="15" fill="#dbe236"/>
<rect x="213" y="374" width="15" height="15" fill="#e1dd37"/>
<rect x="227" y="374" width="43" height="15" fill="#e5d938"/>
<rect x="269" y="374" width="15" height="15" fill="#e1dd37"/>
<rect x="283" y="374" width="43" height="15" fill="#dbe236"/>
<rect x="325" y="374" width="15" height="15" fill="#dfdf37"/>
<rect x="339" y="374" width="15" height="15" fill="#e1dd37"/>
<rect x="353" y="374" width="15" height="15" fill="#e5d938"/>
<rect x="367" y="374" width="15" height="15" fill="#e1dd37"/>
<rect x="381" y="374" width="15" height="15" fill="#dfdf37"/>
<rect x="395" y="374" width="15" height="15" fill="#dbe236"/>
<rect x="409" y="374" width="43" height="15" fill="#d9e436"/>
<rect x="451" y="374" width="15" height="15" fill="#dbe236"/>
<rect x="465" y="374" width="15" height="15" fill="#e5d938"/>
<rect x="479" y="374" width="15" height="15" fill="#ecd13a"/>
<rect x="493" y="374" width="15" height="15" fill="#f4c73a"/>
<rect x="507" y="374" width="15" height="15" fill="#fbb637"/>
<rect x="521" y="374" width="15" height="15" fill="#fea933"/>
<rect x="535" y="374" width="15" height="15" fill="#fe992c"/>
<rect x="549" y="374" width="15" height="15" fill="#fc8725"/>
<rect x="563" y="374" width="15" height="15" fill="#fb7e21"/>
<rect x="577" y="374" width="15" height="15" fill="#f9781e"/>
<rect x="591" y="374" width="57" height="15" fill="#f8721c"/>
<rect x="647" y="374" width="57" height="15" fill="#f9781e"/>
<rect x="703" y="374" width="99" height="15" fill="#fa7b1f"/>
<rect x="801" y="374" width="15" height="15" fill="#f76f1a"/>
<rect x="815" y="374" width="71" height="15" fill="#f56918"/>
<rect x="885" y="374" width="15" height="15" fill="#f76f1a"/>
<rect x="899" y="374" width="29" height="15" fill="#f8721c"/>
<rect x="87" y="388" width="29" height="15" fill="#d0ea34"/>
<rect x="115" y="388" width="15" height="15" fill="#cbed34"/>
<rect x="129" y="388" width="15" height="15" fill="#c3f134"/>
<rect x="143" y="388" width="15" height="15" fill="#bcf534"/>
<rect x="157" y="388" width="15" height="15" fill="#c8ef34"/>
<rect x="171" y="388" width="15" height="15" fill="#d2e935"/>
<rect x="185" y="388" width="15" height="15" fill="#d9e436"/>
<rect x="199" y="388" width="15" height="15" fill="#e1dd37"/>
<rect x="213" y="388" width="15" height="15" fill="#e9d539"/>
<rect x="227" y="388" width="29" height="15" fill="#eecf3a"/>
<rect x="255" y="388" width="15" height="15" fill="#ecd13a"/>
<rect x="269" y="388" width="15" height="15" fill="#e7d739"/>
<rect x="283" y="388" width="15" height="15" fill="#e1dd37"/>
<rect x="297" y="388" width="15" height="15" fill="#dfdf37"/>
<rect x="311" y="388" width="15" height="15" fill="#e1dd37"/>
<rect x="325" y="388" width="15" height="15" fill="#e5d938"/>
<rect x="339" y="388" width="15" height="15" fill="#e9d539"/>
<rect x="353" y="388" width="15" height="15" fill="#ecd13a"/>
<rect x="367" y="388" width="15" height="15" fill="#e7d739"/>
<rect x="381" y="388" width="15" height="15" fill="#e5d938"/>
<rect x="395" y="388" width="15" height="15" fill="#e1dd37"/>
<rect x="409" y="388" width="15" height="15" fill="#dbe236"/>
<rect x="423" y="388" width="29" height="15" fill="#d9e436"/>
<rect x="451" y="388" width="15" height="15" fill="#dbe236"/>
<rect x="465" y="388" width="15" height="15" fill="#e1dd37"/>
<rect x="479" y="388" width="15" height="15" fill="#ecd13a"/>
<rect x="493" y="388" width="15" height="15" fill="#f6c33a"/>
<rect x="507" y="388" width="15" height="15" fill="#fcb336"/>
<rect x="521" y="388" width="15" height="15" fill="#fea431"/>
<rect x="535" y="388" width="15" height="15" fill="#fe9029"/>
<rect x="549" y="388" width="15" height="15" fill="#fc8423"/>
<rect x="563" y="388" width="15" height="15" fill="#fa7b1f"/>
<rect x="577" y="388" width="15" height="15" fill="#f9781e"/>
<rect x="591" y="388" width="71" height="15" fill="#f8721c"/>
<rect x="661" y="388" width="113" height="15" fill="#f9781e"/>
<rect x="773" y="388" width="15" height="15" fill="#f8721c"/>
<rect x="787" y="388" width="15" height="15" fill="#f76f1a"/>
<rect x="801" y="388" width="15" height="15" fill="#f46617"/>
<rect x="815" y="388" width="43" height="15" fill="#f15d13"/>
<rect x="857" y="388" width="29" height="15" fill="#ed5510"/>
<rect x="885" y="388" width="15" height="15" fill="#f05b12"/>
<rect x="899" y="388" width="15" height="15" fill="#f36315"/>
<rect x="913" y="388" width="15" height="15" fill="#f46617"/>
<rect x="87" y="402" width="15" height="15" fill="#d9e436"/>
<rect x="101" y="402" width="29" height="15" fill="#d4e735"/>
<rect x="129" y="402" width="29" height="15" fill="#d0ea34"/>
<rect x="157" y="402" width="15" height="15" fill="#d2e935"/>
<rect x="171" y="402" width="15" height="15" fill="#dbe236"/>
<rect x="185" y="402" width="15" height="15" fill="#e1dd37"/>
<rect x="199" y="402" width="15" height="15" fill="#e9d539"/>
<rect x="213" y="402" width="15" height="15" fill="#f1cb3a"/>
<rect x="227" y="402" width="15" height="15" fill="#f4c73a"/>
<rect x="241" y="402" width="15" height="15" fill="#f6c33a"/>
<rect x="255" y="402" width="15" height="15" fill="#f2c93a"/>
<rect x="269" y="402" width="15" height="15" fill="#eecf3a"/>
<rect x="283" y="402" width="15" height="15" fill="#e9d539"/>
<rect x="297" y="402" width="15" height="15" fill="#e5d938"/>
<rect x="311" y="402" width="15" height="15" fill="#e7d739"/>
<rect x="325" y="402" width="15" height="15" fill="#e9d539"/>
<rect x="339" y="402" width="29" height="15" fill="#ecd13a"/>
<rect x="367" y="402" width="29" height="15" fill="#e9d539"/>
<rect x="395" y="402" width="15" height="15" fill="#e7d739"/>
<rect x="409" y="402" width="15" height="15" fill="#e1dd37"/>
<rect x="423" y="402" width="15" height="15" fill="#dbe236"/>
<rect x="437" y="402" width="29" height="15" fill="#d9e436"/>
<rect x="465" y="402" width="15" height="15" fill="#dfdf37"/>
<rect x="479" y="402" width="15" height="15" fill="#ecd13a"/>
<rect x="493" y="402" width="15" height="15" fill="#f7c13a"/>
<rect x="507" y="402" width="15" height="15" fill="#fcb136"/>
<rect x="521" y="402" width="15" height="15" fill="#fe9b2d"/>
<rect x="535" y="402" width="15" height="15" fill="#fd8d27"/>
<rect x="549" y="402" width="15" height="15" fill="#fa7b1f"/>
<rect x="563" y="402" width="15" height="15" fill="#f9781e"/>
<rect x="577" y="402" width="141" height="15" fill="#f8721c"/>
<rect x="717" y="402" width="43" height="15" fill="#f76f1a"/>
<rect x="759" y="402" width="15" height="15" fill="#f56918"/>
<rect x="773" y="402" width="15" height="15" fill="#f36315"/>
<rect x="787" y="402" width="15" height="15" fill="#f05b12"/>
<rect x="801" y="402" width="15" height="15" fill="#ec530f"/>
<rect x="815" y="402" width="15" height="15" fill="#ea4e0d"/>
<rect x="829" y="402" width="15" height="15" fill="#e84b0c"/>
<rect x="843" y="402" width="15" height="15" fill="#e7490c"/>
<rect x="857" y="402" width="15" height="15" fill="#e2430a"/>
<rect x="871" y="402" width="15" height="15" fill="#e4450a"/>
<rect x="885" y="402" width="15" height="15" fill="#ea4e0d"/>
<rect x="899" y="402" width="15" height="15" fill="#ec530f"/>
<rect x="913" y="402" width="15" height="15" fill="#f05b12"/>
<rect x="87" y="416" width="29" height="15" fill="#dfdf37"/>
<rect x="115" y="416" width="43" height="15" fill="#dbe236"/>
<rect x="157" y="416" width="15" height="15" fill="#dfdf37"/>
<rect x="171" y="416" width="15" height="15" fill="#e5d938"/>
<rect x="185" y="416" width="15" height="15" fill="#ecd13a"/>
<rect x="199" y="416" width="15" height="15" fill="#f2c93a"/>
<rect x="213" y="416" width="15" height="15" fill="#f7c13a"/>
<rect x="227" y="416" width="15" height="15" fill="#faba39"/>
<rect x="241" y="416" width="15" height="15" fill="#fbb637"/>
<rect x="255" y="416" width="15" height="15" fill="#faba39"/>
<rect x="269" y="416" width="15" height="15" fill="#f7c13a"/>
<rect x="283" y="416" width="15" height="15" fill="#f1cb3a"/>
<rect x="297" y="416" width="15" height="15" fill="#e7d739"/>
<rect x="311" y="416" width="15" height="15" fill="#eecf3a"/>
<rect x="325" y="416" width="15" height="15" fill="#f2c93a"/>
<rect x="339" y="416" width="15" height="15" fill="#f1cb3a"/>
<rect x="353" y="416" width="15" height="15" fill="#eecf3a"/>
<rect x="367" y="416" width="29" height="15" fill="#ecd13a"/>
<rect x="395" y="416" width="15" height="15" fill="#e9d539"/>
<rect x="409" y="416" width="15" height="15" fill="#e1dd37"/>
<rect x="423" y="416" width="15" height="15" fill="#dbe236"/>
<rect x="437" y="416" width="15" height="15" fill="#d9e436"/>
<rect x="451" y="416" width="15" height="15" fill="#d4e735"/>
<rect x="465" y="416" width="15" height="15" fill="#dfdf37"/>
<rect x="479" y="416" width="15" height="15" fill="#eecf3a"/>
<rect x="493" y="416" width="15" height="15" fill="#faba39"/>
<rect x="507" y="416" width="15" height="15" fill="#fea933"/>
<rect x="521" y="416" width="15" height="15" fill="#fe962b"/>
<rect x="535" y="416" width="15" height="15" fill="#fc8423"/>
<rect x="549" y="416" width="15" height="15" fill="#f9781e"/>
<rect x="563" y="416" width="127" height="15" fill="#f8721c"/>
<rect x="689" y="416" width="29" height="15" fill="#f76f1a"/>
<rect x="717" y="416" width="15" height="15" fill="#f56918"/>
<rect x="731" y="416" width="15" height="15" fill="#f46617"/>
<rect x="745" y="416" width="15" height="15" fill="#f36315"/>
<rect x="759" y="416" width="15" height="15" fill="#f15d13"/>
<rect x="773" y="416" width="15" height="15" fill="#ec530f"/>
<rect x="787" y="416" width="15" height="15" fill="#e7490c"/>
<rect x="801" y="416" width="15" height="15" fill="#e4450a"/>
<rect x="815" y="416" width="15" height="15" fill="#e2430a"/>
<rect x="829" y="416" width="29" height="15" fill="#df3f08"/>
<rect x="857" y="416" width="15" height="15" fill="#dd3d08"/>
<rect x="871" y="416" width="15" height="15" fill="#df3f08"/>
<rect x="885" y="416" width="15" height="15" fill="#e4450a"/>
<rect x="899" y="416" width="15" height="15" fill="#e7490c"/>
<rect x="913" y="416" width="15" height="15" fill="#ea4e0d"/>
<rect x="87" y="430" width="43" height="15" fill="#e5d938"/>
<rect x="129" y="430" width="15" height="15" fill="#e7d739"/>
<rect x="143" y="430" width="29" height="15" fill="#ecd13a"/>
<rect x="171" y="430" width="15" height="15" fill="#f1cb3a"/>
<rect x="185" y="430" width="15" height="15" fill="#f4c73a"/>
<rect x="199" y="430" width="15" height="15" fill="#faba39"/>
<rect x="213" y="430" width="15" height="15" fill="#fcb136"/>
<rect x="227" y="430" width="15" height="15" fill="#fea933"/>
<rect x="241" y="430" width="29" height="15" fill="#fea431"/>
<rect x="269" y="430" width="15" height="15" fill="#fdac34"/>
<rect x="283" y="430" width="15" height="15" fill="#fbb637"/>
<rect x="297" y="430" width="15" height="15" fill="#f2c93a"/>
<rect x="311" y="430" width="29" height="15" fill="#fbb637"/>
<rect x="339" y="430" width="15" height="15" fill="#f6c33a"/>
<rect x="353" y="430" width="29" height="15" fill="#f1cb3a"/>
<rect x="381" y="430" width="15" height="15" fill="#eecf3a"/>
<rect x="395" y="430" width="15" height="15" fill="#ecd13a"/>
<rect x="409" y="430" width="15" height="15" fill="#e7d739"/>
<rect x="423" y="430" width="15" height="15" fill="#dfdf37"/>
<rect x="437" y="430" width="15" height="15" fill="#dbe236"/>
<rect x="451" y="430" width="15" height="15" fill="#dfdf37"/>
<rect x="465" y="430" width="15" height="15" fill="#ecd13a"/>
<rect x="479" y="430" width="15" height="15" fill="#f7c13a"/>
<rect x="493" y="430" width="15" height="15" fill="#fdac34"/>
<rect x="507" y="430" width="15" height="15" fill="#fe9b2d"/>
<rect x="521" y="430" width="15" height="15" fill="#fe9029"/>
<rect x="535" y="430" width="15" height="15" fill="#fc8423"/>
<rect x="549" y="430" width="15" height="15" fill="#f9781e"/>
<rect x="563" y="430" width="127" height="15" fill="#f8721c"/>
<rect x="689" y="430" width="15" height="15" fill="#f76f1a"/>
<rect x="703" y="430" width="15" height="15" fill="#f56918"/>
<rect x="717" y="430" width="15" height="15" fill="#f36315"/>
<rect x="731" y="430" width="15" height="15" fill="#f15d13"/>
<rect x="745" y="430" width="15" height="15" fill="#ed5510"/>
<rect x="759" y="430" width="15" height="15" fill="#ec530f"/>
<rect x="773" y="430" width="15" height="15" fill="#e84b0c"/>
<rect x="787" y="430" width="15" height="15" fill="#e4450a"/>
<rect x="801" y="430" width="15" height="15" fill="#e2430a"/>
<rect x="815" y="430" width="15" height="15" fill="#df3f08"/>
<rect x="829" y="430" width="15" height="15" fill="#dd3d08"/>
<rect x="843" y="430" width="29" height="15" fill="#da3907"/>
<rect x="871" y="430" width="15" height="15" fill="#dd3d08"/>
<rect x="885" y="430" width="15" height="15" fill="#df3f08"/>
<rect x="899" y="430" width="15" height="15" fill="#e2430a"/>
<rect x="913" y="430" width="15" height="15" fill="#e7490c"/>
<rect x="87" y="444" width="29" height="15" fill="#ecd13a"/>
<rect x="115" y="444" width="15" height="15" fill="#eecf3a"/>
<rect x="129" y="444" width="15" height="15" fill="#f4c73a"/>
<rect x="143" y="444" width="15" height="15" fill="#f7c13a"/>
<rect x="157" y="444" width="15" height="15" fill="#f9bc39"/>
<rect x="171" y="444" width="15" height="15" fill="#faba39"/>
<rect x="185" y="444" width="15" height="15" fill="#fcb136"/>
<rect x="199" y="444" width="15" height="15" fill="#fea431"/>
<rect x="213" y="444" width="15" height="15" fill="#fe992c"/>
<rect x="227" y="444" width="15" height="15" fill="#fe9029"/>
<rect x="241" y="444" width="15" height="15" fill="#fd8d27"/>
<rect x="255" y="444" width="15" height="15" fill="#fc8725"/>
<rect x="269" y="444" width="15" height="15" fill="#fd8d27"/>
<rect x="283" y="444" width="15" height="15" fill="#fe962b"/>
<rect x="297" y="444" width="15" height="15" fill="#fe992c"/>
<rect x="311" y="444" width="15" height="15" fill="#fe9029"/>
<rect x="325" y="444" width="15" height="15" fill="#fe9b2d"/>
<rect x="339" y="444" width="15" height="15" fill="#fcb336"/>
<rect x="353" y="444" width="15" height="15" fill="#faba39"/>
<rect x="367" y="444" width="15" height="15" fill="#f7c13a"/>
<rect x="381" y="444" width="29" height="15" fill="#f6c33a"/>
<rect x="409" y="444" width="15" height="15" fill="#eecf3a"/>
<rect x="423" y="444" width="15" height="15" fill="#ecd13a"/>
<rect x="437" y="444" width="15" height="15" fill="#e9d539"/>
<rect x="451" y="444" width="15" height="15" fill="#f1cb3a"/>
<rect x="465" y="444" width="15" height="15" fill="#faba39"/>
<rect x="479" y="444" width="15" height="15" fill="#fea933"/>
<rect x="493" y="444" width="15" height="15" fill="#fe992c"/>
<rect x="507" y="444" width="15" height="15" fill="#fd8d27"/>
<rect x="521" y="444" width="15" height="15" fill="#fc8423"/>
<rect x="535" y="444" width="15" height="15" fill="#fb7e21"/>
<rect x="549" y="444" width="15" height="15" fill="#fa7b1f"/>
<rect x="563" y="444" width="15" height="15" fill="#f9781e"/>
<rect x="577" y="444" width="99" height="15" fill="#f8721c"/>
<rect x="675" y="444" width="15" height="15" fill="#f76f1a"/>
<rect x="689" y="444" width="15" height="15" fill="#f56918"/>
<rect x="703" y="444" width="15" height="15" fill="#f36315"/>
<rect x="717" y="444" width="15" height="15" fill="#f05b12"/>
<rect x="731" y="444" width="15" height="15" fill="#ed5510"/>
<rect x="745" y="444" width="15" height="15" fill="#ea4e0d"/>
<rect x="759" y="444" width="15" height="15" fill="#e84b0c"/>
<rect x="773" y="444" width="15" height="15" fill="#e7490c"/>
<rect x="787" y="444" width="15" height="15" fill="#e2430a"/>
<rect x="801" y="444" width="15" height="15" fill="#df3f08"/>
<rect x="815" y="444" width="15" height="15" fill="#dd3d08"/>
<rect x="829" y="444" width="57" height="15" fill="#da3907"/>
<rect x="885" y="444" width="15" height="15" fill="#dd3d08"/>
<rect x="899" y="444" width="15" height="15" fill="#df3f08"/>
<rect x="913" y="444" width="15" height="15" fill="#e2430a"/>
<rect x="87" y="458" width="15" height="15" fill="#f4c73a"/>
<rect x="101" y="458" width="15" height="15" fill="#f6c33a"/>
<rect x="115" y="458" width="15" height="15" fill="#f9bc39"/>
<rect x="129" y="458" width="15" height="15" fill="#fcb136"/>
<rect x="143" y="458" width="29" height="15" fill="#fea431"/>
<rect x="171" y="458" width="15" height="15" fill="#fea130"/>
<rect x="185" y="458" width="15" height="15" fill="#fe962b"/>
<rect x="199" y="458" width="15" height="15" fill="#fd8d27"/>
<rect x="213" y="458" width="15" height="15" fill="#fb7e21"/>
<rect x="227" y="458" width="29" height="15" fill="#fa7b1f"/>
<rect x="255" y="458" width="29" height="15" fill="#f8721c"/>
<rect x="283" y="458" width="15" height="15" fill="#f9781e"/>
<rect x="297" y="458" width="15" height="15" fill="#fa7b1f"/>
<rect x="311" y="458" width="15" height="15" fill="#fb7e21"/>
<rect x="325" y="458" width="15" height="15" fill="#fc8725"/>
<rect x="339" y="458" width="15" height="15" fill="#fe962b"/>
<rect x="353" y="458" width="15" height="15" fill="#fe992c"/>
<rect x="367" y="458" width="29" height="15" fill="#fea130"/>
<rect x="395" y="458" width="15" height="15" fill="#fea431"/>
<rect x="409" y="458" width="29" height="15" fill="#fdac34"/>
<rect x="437" y="458" width="15" height="15" fill="#fea933"/>
<rect x="451" y="458" width="15" height="15" fill="#fea431"/>
<rect x="465" y="458" width="15" height="15" fill="#fe9029"/>
<rect x="479" y="458" width="15" height="15" fill="#fc8423"/>
<rect x="493" y="458" width="29" height="15" fill="#fb7e21"/>
<rect x="521" y="458" width="29" height="15" fill="#fa7b1f"/>
<rect x="549" y="458" width="29" height="15" fill="#f9781e"/>
<rect x="577" y="458" width="85" height="15" fill="#f8721c"/>
<rect x="661" y="458" width="15" height="15" fill="#f76f1a"/>
<rect x="675" y="458" width="15" height="15" fill="#f56918"/>
<rect x="689" y="458" width="15" height="15" fill="#f46617"/>
<rect x="703" y="458" width="15" height="15" fill="#f15d13"/>
<rect x="717" y="458" width="15" height="15" fill="#ed5510"/>
<rect x="731" y="458" width="15" height="15" fill="#e84b0c"/>
<rect x="745" y="458" width="15" height="15" fill="#e7490c"/>
<rect x="759" y="458" width="29" height="15" fill="#e4450a"/>
<rect x="787" y="458" width="15" height="15" fill="#e2430a"/>
<rect x="801" y="458" width="15" height="15" fill="#dd3d08"/>
<rect x="815" y="458" width="29" height="15" fill="#da3907"/>
<rect x="843" y="458" width="57" height="15" fill="#d83706"/>
<rect x="899" y="458" width="15" height="15" fill="#da3907"/>
<rect x="913" y="458" width="15" height="15" fill="#dd3d08"/>
<rect x="87" y="472" width="15" height="15" fill="#faba39"/>
<rect x="101" y="472" width="15" height="15" fill="#fcb136"/>
<rect x="115" y="472" width="15" height="15" fill="#fea130"/>
<rect x="129" y="472" width="15" height="15" fill="#fe992c"/>
<rect x="143" y="472" width="15" height="15" fill="#fe9029"/>
<rect x="157" y="472" width="15" height="15" fill="#fd8d27"/>
<rect x="171" y="472" width="15" height="15" fill="#fc8725"/>
<rect x="185" y="472" width="15" height="15" fill="#fc8423"/>
<rect x="199" y="472" width="15" height="15" fill="#fa7b1f"/>
<rect x="213" y="472" width="29" height="15" fill="#f9781e"/>
<rect x="241" y="472" width="15" height="15" fill="#f8721c"/>
<rect x="255" y="472" width="57" height="15" fill="#f76f1a"/>
<rect x="311" y="472" width="15" height="15" fill="#f8721c"/>
<rect x="325" y="472" width="29" height="15" fill="#f9781e"/>
<rect x="353" y="472" width="15" height="15" fill="#f76f1a"/>
<rect x="367" y="472" width="29" height="15" fill="#fa7b1f"/>
<rect x="395" y="472" width="15" height="15" fill="#f9781e"/>
<rect x="409" y="472" width="15" height="15" fill="#fb7e21"/>
<rect x="423" y="472" width="15" height="15" fill="#fa7b1f"/>
<rect x="437" y="472" width="15" height="15" fill="#f8721c"/>
<rect x="451" y="472" width="15" height="15" fill="#fa7b1f"/>
<rect x="465" y="472" width="15" height="15" fill="#f8721c"/>
<rect x="479" y="472" width="15" height="15" fill="#f76f1a"/>
<rect x="493" y="472" width="113" height="15" fill="#f8721c"/>
<rect x="605" y="472" width="43" height="15" fill="#f76f1a"/>
<rect x="647" y="472" width="15" height="15" fill="#f56918"/>
<rect x="661" y="472" width="15" height="15" fill="#f46617"/>
<rect x="675" y="472" width="15" height="15" fill="#f36315"/>
<rect x="689" y="472" width="15" height="15" fill="#f15d13"/>
<rect x="703" y="472" width="15" height="15" fill="#ed5510"/>
<rect x="717" y="472" width="15" height="15" fill="#ea4e0d"/>
<rect x="731" y="472" width="15" height="15" fill="#e7490c"/>
<rect x="745" y="472" width="15" height="15" fill="#e4450a"/>
<rect x="759" y="472" width="29" height="15" fill="#e2430a"/>
<rect x="787" y="472" width="15" height="15" fill="#df3f08"/>
<rect x="801" y="472" width="15" height="15" fill="#dd3d08"/>
<rect x="815" y="472" width="15" height="15" fill="#da3907"/>
<rect x="829" y="472" width="15" height="15" fill="#d83706"/>
<rect x="843" y="472" width="57" height="15" fill="#d63506"/>
<rect x="899" y="472" width="29" height="15" fill="#d83706"/>
<rect x="87" y="486" width="15" height="15" fill="#fcb336"/>
<rect x="101" y="486" width="15" height="15" fill="#fea431"/>
<rect x="115" y="486" width="15" height="15" fill="#fe992c"/>
<rect x="129" y="486" width="15" height="15" fill="#fe9029"/>
<rect x="143" y="486" width="15" height="15" fill="#fc8725"/>
<rect x="157" y="486" width="15" height="15" fill="#fb7e21"/>
<rect x="171" y="486" width="29" height="15" fill="#fa7b1f"/>
<rect x="199" y="486" width="57" height="15" fill="#f9781e"/>
<rect x="255" y="486" width="15" height="15" fill="#f8721c"/>
<rect x="269" y="486" width="127" height="15" fill="#f56918"/>
<rect x="395" y="486" width="15" height="15" fill="#f46617"/>
<rect x="409" y="486" width="113" height="15" fill="#f56918"/>
<rect x="521" y="486" width="71" height="15" fill="#f76f1a"/>
<rect x="591" y="486" width="29" height="15" fill="#f56918"/>
<rect x="619" y="486" width="29" height="15" fill="#f46617"/>
<rect x="647" y="486" width="15" height="15" fill="#f36315"/>
<rect x="661" y="486" width="15" height="15" fill="#f15d13"/>
<rect x="675" y="486" width="15" height="15" fill="#f05b12"/>
<rect x="689" y="486" width="15" height="15" fill="#ed5510"/>
<rect x="703" y="486" width="15" height="15" fill="#ea4e0d"/>
<rect x="717" y="486" width="15" height="15" fill="#e7490c"/>
<rect x="731" y="486" width="15" height="15" fill="#e4450a"/>
<rect x="745" y="486" width="15" height="15" fill="#e2430a"/>
<rect x="759" y="486" width="29" height="15" fill="#df3f08"/>
<rect x="787" y="486" width="15" height="15" fill="#dd3d08"/>
<rect x="801" y="486" width="15" height="15" fill="#da3907"/>
<rect x="815" y="486" width="15" height="15" fill="#d83706"/>
<rect x="829" y="486" width="29" height="15" fill="#d63506"/>
<rect x="857" y="486" width="57" height="15" fill="#d23105"/>
<rect x="913" y="486" width="15" height="15" fill="#d63506"/>
<rect x="87" y="500" width="15" height="15" fill="#fdac34"/>
<rect x="101" y="500" width="15" height="15" fill="#fea933"/>
<rect x="115" y="500" width="15" height="15" fill="#fe992c"/>
<rect x="129" y="500" width="15" height="15" fill="#fc8725"/>
<rect x="143" y="500" width="15" height="15" fill="#fb7e21"/>
<rect x="157" y="500" width="15" height="15" fill="#fa7b1f"/>
<rect x="171" y="500" width="15" height="15" fill="#f9781e"/>
<rect x="185" y="500" width="43" height="15" fill="#f8721c"/>
<rect x="227" y="500" width="15" height="15" fill="#f9781e"/>
<rect x="241" y="500" width="15" height="15" fill="#fa7b1f"/>
<rect x="255" y="500" width="15" height="15" fill="#f8721c"/>
<rect x="269" y="500" width="15" height="15" fill="#f56918"/>
<rect x="283" y="500" width="15" height="15" fill="#f46617"/>
<rect x="297" y="500" width="29" height="15" fill="#f36315"/>
<rect x="325" y="500" width="43" height="15" fill="#f46617"/>
<rect x="367" y="500" width="57" height="15" fill="#f36315"/>
<rect x="423" y="500" width="43" height="15" fill="#f46617"/>
<rect x="465" y="500" width="15" height="15" fill="#f56918"/>
<rect x="479" y="500" width="127" height="15" fill="#f46617"/>
<rect x="605" y="500" width="29" height="15" fill="#f36315"/>
<rect x="633" y="500" width="15" height="15" fill="#f15d13"/>
<rect x="647" y="500" width="15" height="15" fill="#f05b12"/>
<rect x="661" y="500" width="15" height="15" fill="#ed5510"/>
<rect x="675" y="500" width="15" height="15" fill="#ec530f"/>
<rect x="689" y="500" width="15" height="15" fill="#ea4e0d"/>
<rect x="703" y="500" width="15" height="15" fill="#e7490c"/>
<rect x="717" y="500" width="15" height="15" fill="#e4450a"/>
<rect x="731" y="500" width="15" height="15" fill="#e2430a"/>
<rect x="745" y="500" width="15" height="15" fill="#df3f08"/>
<rect x="759" y="500" width="43" height="15" fill="#dd3d08"/>
<rect x="801" y="500" width="15" height="15" fill="#da3907"/>
<rect x="815" y="500" width="15" height="15" fill="#d83706"/>
<rect x="829" y="500" width="15" height="15" fill="#d63506"/>
<rect x="843" y="500" width="15" height="15" fill="#d23105"/>
<rect x="857" y="500" width="57" height="15" fill="#d02f05"/>
<rect x="913" y="500" width="15" height="15" fill="#d23105"/>
<rect x="87" y="514" width="15" height="15" fill="#fea431"/>
<rect x="101" y="514" width="15" height="15" fill="#fe9b2d"/>
<rect x="115" y="514" width="15" height="15" fill="#fe9029"/>
<rect x="129" y="514" width="15" height="15" fill="#fc8423"/>
<rect x="143" y="514" width="15" height="15" fill="#fa7b1f"/>
<rect x="157" y="514" width="15" height="15" fill="#f9781e"/>
<rect x="171" y="514" width="85" height="15" fill="#f76f1a"/>
<rect x="255" y="514" width="15" height="15" fill="#f56918"/>
<rect x="269" y="514" width="15" height="15" fill="#f46617"/>
<rect x="283" y="514" width="29" height="15" fill="#f36315"/>
<rect x="311" y="514" width="15" height="15" fill="#f15d13"/>
<rect x="325" y="514" width="43" height="15" fill="#f36315"/>
<rect x="367" y="514" width="57" height="15" fill="#f15d13"/>
<rect x="423" y="514" width="99" height="15" fill="#f36315"/>
<rect x="521" y="514" width="15" height="15" fill="#f15d13"/>
<rect x="535" y="514" width="57" height="15" fill="#f36315"/>
<rect x="591" y="514" width="15" height="15" fill="#f15d13"/>
<rect x="605" y="514" width="29" height="15" fill="#f05b12"/>
<rect x="633" y="514" width="15" height="15" fill="#ed5510"/>
<rect x="647" y="514" width="15" height="15" fill="#ec530f"/>
<rect x="661" y="514" width="15" height="15" fill="#ea4e0d"/>
<rect x="675" y="514" width="15" height="15" fill="#e84b0c"/>
<rect x="689" y="514" width="15" height="15" fill="#e7490c"/>
<rect x="703" y="514" width="15" height="15" fill="#e4450a"/>
<rect x="717" y="514" width="29" height="15" fill="#df3f08"/>
<rect x="745" y="514" width="29" height="15" fill="#dd3d08"/>
<rect x="773" y="514" width="29" height="15" fill="#da3907"/>
<rect x="801" y="514" width="15" height="15" fill="#d83706"/>
<rect x="815" y="514" width="15" height="15" fill="#d63506"/>
<rect x="829" y="514" width="15" height="15" fill="#d23105"/>
<rect x="843" y="514" width="15" height="15" fill="#d02f05"/>
<rect x="857" y="514" width="57" height="15" fill="#cc2b04"/>
<rect x="913" y="514" width="15" height="15" fill="#d02f05"/>
<rect x="87" y="528" width="15" height="15" fill="#fe992c"/>
<rect x="101" y="528" width="15" height="15" fill="#fe962b"/>
<rect x="115" y="528" width="15" height="15" fill="#fc8725"/>
<rect x="129" y="528" width="15" height="15" fill="#fb7e21"/>
<rect x="143" y="528" width="15" height="15" fill="#f9781e"/>
<rect x="157" y="528" width="15" height="15" fill="#f76f1a"/>
<rect x="171" y="528" width="15" height="15" fill="#f56918"/>
<rect x="185" y="528" width="85" height="15" fill="#f46617"/>
<rect x="269" y="528" width="15" height="15" fill="#f36315"/>
<rect x="283" y="528" width="99" height="15" fill="#f15d13"/>
<rect x="381" y="528" width="29" height="15" fill="#f05b12"/>
<rect x="409" y="528" width="169" height="15" fill="#f15d13"/>
<rect x="577" y="528" width="29" height="15" fill="#f05b12"/>
<rect x="605" y="528" width="15" height="15" fill="#ed5510"/>
<rect x="619" y="528" width="29" height="15" fill="#ec530f"/>
<rect x="647" y="528" width="15" height="15" fill="#ea4e0d"/>
<rect x="661" y="528" width="15" height="15" fill="#e84b0c"/>
<rect x="675" y="528" width="15" height="15" fill="#e4450a"/>
<rect x="689" y="528" width="15" height="15" fill="#e2430a"/>
<rect x="703" y="528" width="15" height="15" fill="#df3f08"/>
<rect x="717" y="528" width="15" height="15" fill="#dd3d08"/>
<rect x="731" y="528" width="57" height="15" fill="#da3907"/>
<rect x="787" y="528" width="15" height="15" fill="#d83706"/>
<rect x="801" y="528" width="15" height="15" fill="#d63506"/>
<rect x="815" y="528" width="15" height="15" fill="#d23105"/>
<rect x="829" y="528" width="15" height="15" fill="#d02f05"/>
<rect x="843" y="528" width="15" height="15" fill="#cc2b04"/>
<rect x="857" y="528" width="57" height="15" fill="#ca2a04"/>
<rect x="913" y="528" width="15" height="15" fill="#cc2b04"/>
<rect x="87" y="542" width="15" height="15" fill="#fe9029"/>
<rect x="101" y="542" width="15" height="15" fill="#fc8725"/>
<rect x="115" y="542" width="15" height="15" fill="#fb7e21"/>
<rect x="129" y="542" width="15" height="15" fill="#f9781e"/>
<rect x="143" y="542" width="15" height="15" fill="#f76f1a"/>
<rect x="157" y="542" width="15" height="15" fill="#f56918"/>
<rect x="171" y="542" width="15" height="15" fill="#f36315"/>
<rect x="185" y="542" width="43" height="15" fill="#f15d13"/>
<rect x="227" y="542" width="15" height="15" fill="#f36315"/>
<rect x="241" y="542" width="43" height="15" fill="#f15d13"/>
<rect x="283" y="542" width="295" height="15" fill="#f05b12"/>
<rect x="577" y="542" width="15" height="15" fill="#ed5510"/>
<rect x="591" y="542" width="29" height="15" fill="#ec530f"/>
<rect x="619" y="542" width="15" height="15" fill="#ea4e0d"/>
<rect x="633" y="542" width="15" height="15" fill="#e84b0c"/>
<rect x="647" y="542" width="15" height="15" fill="#e7490c"/>
<rect x="661" y="542" width="15" height="15" fill="#e4450a"/>
<rect x="675" y="542" width="15" height="15" fill="#e2430a"/>
<rect x="689" y="542" width="15" height="15" fill="#dd3d08"/>
<rect x="703" y="542" width="15" height="15" fill="#da3907"/>
<rect x="717" y="542" width="57" height="15" fill="#d83706"/>
<rect x="773" y="542" width="29" height="15" fill="#d63506"/>
<rect x="801" y="542" width="15" height="15" fill="#d23105"/>
<rect x="815" y="542" width="15" height="15" fill="#d02f05"/>
<rect x="829" y="542" width="15" height="15" fill="#cc2b04"/>
<rect x="843" y="542" width="15" height="15" fill="#ca2a04"/>
<rect x="857" y="542" width="43" height="15" fill="#c82803"/>
<rect x="899" y="542" width="29" height="15" fill="#ca2a04"/>
<rect x="87" y="556" width="15" height="15" fill="#fc8725"/>
<rect x="101" y="556" width="15" height="15" fill="#fb7e21"/>
<rect x="115" y="556" width="15" height="15" fill="#fa7b1f"/>
<rect x="129" y="556" width="15" height="15" fill="#f8721c"/>
<rect x="143" y="556" width="15" height="15" fill="#f56918"/>
<rect x="157" y="556" width="15" height="15" fill="#f36315"/>
<rect x="171" y="556" width="15" height="15" fill="#f15d13"/>
<rect x="185" y="556" width="85" height="15" fill="#f05b12"/>
<rect x="269" y="556" width="57" height="15" fill="#ed5510"/>
<rect x="325" y="556" width="29" height="15" fill="#f05b12"/>
<rect x="353" y="556" width="57" height="15" fill="#ed5510"/>
<rect x="409" y="556" width="57" height="15" fill="#f05b12"/>
<rect x="465" y="556" width="113" height="15" fill="#ed5510"/>
<rect x="577" y="556" width="15" height="15" fill="#ec530f"/>
<rect x="591" y="556" width="15" height="15" fill="#ea4e0d"/>
<rect x="605" y="556" width="15" height="15" fill="#e84b0c"/>
<rect x="619" y="556" width="15" height="15" fill="#e7490c"/>
<rect x="633" y="556" width="15" height="15" fill="#e4450a"/>
<rect x="647" y="556" width="15" height="15" fill="#e2430a"/>
<rect x="661" y="556" width="15" height="15" fill="#df3f08"/>
<rect x="675" y="556" width="15" height="15" fill="#dd3d08"/>
<rect x="689" y="556" width="15" height="15" fill="#da3907"/>
<rect x="703" y="556" width="15" height="15" fill="#d83706"/>
<rect x="717" y="556" width="57" height="15" fill="#d63506"/>
<rect x="773" y="556" width="29" height="15" fill="#d23105"/>
<rect x="801" y="556" width="15" height="15" fill="#d02f05"/>
<rect x="815" y="556" width="15" height="15" fill="#cc2b04"/>
<rect x="829" y="556" width="15" height="15" fill="#ca2a04"/>
<rect x="843" y="556" width="15" height="15" fill="#c82803"/>
<rect x="857" y="556" width="29" height="15" fill="#c32503"/>
<rect x="885" y="556" width="43" height="15" fill="#c82803"/>
<rect x="87" y="570" width="15" height="15" fill="#fb7e21"/>
<rect x="101" y="570" width="15" height="15" fill="#f9781e"/>
<rect x="115" y="570" width="15" height="15" fill="#f8721c"/>
<rect x="129" y="570" width="15" height="15" fill="#f56918"/>
<rect x="143" y="570" width="15" height="15" fill="#f36315"/>
<rect x="157" y="570" width="15" height="15" fill="#f15d13"/>
<rect x="171" y="570" width="15" height="15" fill="#f05b12"/>
<rect x="185" y="570" width="15" height="15" fill="#ed5510"/>
<rect x="199" y="570" width="127" height="15" fill="#ec530f"/>
<rect x="325" y="570" width="169" height="15" fill="#ed5510"/>
<rect x="493" y="570" width="85" height="15" fill="#ec530f"/>
<rect x="577" y="570" width="15" height="15" fill="#ea4e0d"/>
<rect x="591" y="570" width="15" height="15" fill="#e84b0c"/>
<rect x="605" y="570" width="15" height="15" fill="#e7490c"/>
<rect x="619" y="570" width="15" height="15" fill="#e4450a"/>
<rect x="633" y="570" width="15" height="15" fill="#e2430a"/>
<rect x="647" y="570" width="15" height="15" fill="#df3f08"/>
<rect x="661" y="570" width="15" height="15" fill="#dd3d08"/>
<rect x="675" y="570" width="15" height="15" fill="#da3907"/>
<rect x="689" y="570" width="15" height="15" fill="#d83706"/>
<rect x="703" y="570" width="29" height="15" fill="#d63506"/>
<rect x="731" y="570" width="43" height="15" fill="#d23105"/>
<rect x="773" y="570" width="29" height="15" fill="#d02f05"/>
<rect x="801" y="570" width="29" height="15" fill="#cc2b04"/>
<rect x="829" y="570" width="15" height="15" fill="#ca2a04"/>
<rect x="843" y="570" width="15" height="15" fill="#c82803"/>
<rect x="857" y="570" width="43" height="15" fill="#c32503"/>
<rect x="899" y="570" width="29" height="15" fill="#c82803"/>
<rect x="87" y="584" width="15" height="15" fill="#f9781e"/>
<rect x="101" y="584" width="15" height="15" fill="#f76f1a"/>
<rect x="115" y="584" width="15" height="15" fill="#f56918"/>
<rect x="129" y="584" width="15" height="15" fill="#f36315"/>
<rect x="143" y="584" width="15" height="15" fill="#f05b12"/>
<rect x="157" y="584" width="15" height="15" fill="#ed5510"/>
<rect x="171" y="584" width="29" height="15" fill="#ec530f"/>
<rect x="199" y="584" width="127" height="15" fill="#ea4e0d"/>
<rect x="325" y="584" width="211" height="15" fill="#ec530f"/>
<rect x="535" y="584" width="43" height="15" fill="#ea4e0d"/>
<rect x="577" y="584" width="15" height="15" fill="#e84b0c"/>
<rect x="591" y="584" width="15" height="15" fill="#e7490c"/>
<rect x="605" y="584" width="15" height="15" fill="#e4450a"/>
<rect x="619" y="584" width="15" height="15" fill="#e2430a"/>
<rect x="633" y="584" width="15" height="15" fill="#df3f08"/>
<rect x="647" y="584" width="15" height="15" fill="#dd3d08"/>
<rect x="661" y="584" width="15" height="15" fill="#da3907"/>
<rect x="675" y="584" width="15" height="15" fill="#d83706"/>
<rect x="689" y="584" width="29" height="15" fill="#d63506"/>
<rect x="717" y="584" width="29" height="15" fill="#d23105"/>
<rect x="745" y="584" width="43" height="15" fill="#d02f05"/>
<rect x="787" y="584" width="29" height="15" fill="#cc2b04"/>
<rect x="815" y="584" width="15" height="15" fill="#ca2a04"/>
<rect x="829" y="584" width="29" height="15" fill="#c82803"/>
<rect x="857" y="584" width="57" height="15" fill="#c32503"/>
<rect x="913" y="584" width="15" height="15" fill="#c82803"/>
<rect x="87" y="598" width="15" height="15" fill="#f76f1a"/>
<rect x="101" y="598" width="15" height="15" fill="#f56918"/>
<rect x="115" y="598" width="15" height="15" fill="#f36315"/>
<rect x="129" y="598" width="15" height="15" fill="#f05b12"/>
<rect x="143" y="598" width="15" height="15" fill="#ec530f"/>
<rect x="157" y="598" width="29" height="15" fill="#ea4e0d"/>
<rect x="185" y="598" width="127" height="15" fill="#e84b0c"/>
<rect x="311" y="598" width="225" height="15" fill="#ea4e0d"/>
<rect x="535" y="598" width="43" height="15" fill="#e84b0c"/>
<rect x="577" y="598" width="15" height="15" fill="#e7490c"/>
<rect x="591" y="598" width="15" height="15" fill="#e4450a"/>
<rect x="605" y="598" width="15" height="15" fill="#e2430a"/>
<rect x="619" y="598" width="15" height="15" fill="#df3f08"/>
<rect x="633" y="598" width="15" height="15" fill="#dd3d08"/>
<rect x="647" y="598" width="15" height="15" fill="#da3907"/>
<rect x="661" y="598" width="15" height="15" fill="#d83706"/>
<rect x="675" y="598" width="29" height="15" fill="#d63506"/>
<rect x="703" y="598" width="29" height="15" fill="#d23105"/>
<rect x="731" y="598" width="29" height="15" fill="#d02f05"/>
<rect x="759" y="598" width="43" height="15" fill="#cc2b04"/>
<rect x="801" y="598" width="29" height="15" fill="#ca2a04"/>
<rect x="829" y="598" width="15" height="15" fill="#c82803"/>
<rect x="843" y="598" width="85" height="15" fill="#c32503"/>
<rect x="87" y="612" width="15" height="15" fill="#f46617"/>
<rect x="101" y="612" width="15" height="15" fill="#f36315"/>
<rect x="115" y="612" width="15" height="15" fill="#f05b12"/>
<rect x="129" y="612" width="15" height="15" fill="#ec530f"/>
<rect x="143" y="612" width="15" height="15" fill="#ea4e0d"/>
<rect x="157" y="612" width="15" height="15" fill="#e84b0c"/>
<rect x="171" y="612" width="127" height="15" fill="#e7490c"/>
<rect x="297" y="612" width="99" height="15" fill="#e84b0c"/>
<rect x="395" y="612" width="99" height="15" fill="#ea4e0d"/>
<rect x="493" y="612" width="57" height="15" fill="#e84b0c"/>
<rect x="549" y="612" width="15" height="15" fill="#e7490c"/>
<rect x="563" y="612" width="29" height="15" fill="#e4450a"/>
<rect x="591" y="612" width="15" height="15" fill="#e2430a"/>
<rect x="605" y="612" width="15" height="15" fill="#df3f08"/>
<rect x="619" y="612" width="15" height="15" fill="#dd3d08"/>
<rect x="633" y="612" width="15" height="15" fill="#da3907"/>
<rect x="647" y="612" width="15" height="15" fill="#d83706"/>
<rect x="661" y="612" width="29" height="15" fill="#d63506"/>
<rect x="689" y="612" width="29" height="15" fill="#d23105"/>
<rect x="717" y="612" width="29" height="15" fill="#d02f05"/>
<rect x="745" y="612" width="43" height="15" fill="#cc2b04"/>
<rect x="787" y="612" width="29" height="15" fill="#ca2a04"/>
<rect x="815" y="612" width="29" height="15" fill="#c82803"/>
<rect x="843" y="612" width="85" height="15" fill="#c32503"/>
<rect x="87" y="626" width="15" height="15" fill="#f15d13"/>
<rect x="101" y="626" width="15" height="15" fill="#f05b12"/>
<rect x="115" y="626" width="15" height="15" fill="#ec530f"/>
<rect x="129" y="626" width="15" height="15" fill="#e84b0c"/>
<rect x="143" y="626" width="15" height="15" fill="#e7490c"/>
<rect x="157" y="626" width="71" height="15" fill="#e4450a"/>
<rect x="227" y="626" width="113" height="15" fill="#e7490c"/>
<rect x="339" y="626" width="183" height="15" fill="#e84b0c"/>
<rect x="521" y="626" width="29" height="15" fill="#e7490c"/>
<rect x="549" y="626" width="15" height="15" fill="#e4450a"/>
<rect x="563" y="626" width="29" height="15" fill="#e2430a"/>
<rect x="591" y="626" width="15" height="15" fill="#df3f08"/>
<rect x="605" y="626" width="15" height="15" fill="#dd3d08"/>
<rect x="619" y="626" width="15" height="15" fill="#da3907"/>
<rect x="633" y="626" width="15" height="15" fill="#d83706"/>
<rect x="647" y="626" width="29" height="15" fill="#d63506"/>
<rect x="675" y="626" width="15" height="15" fill="#d23105"/>
<rect x="689" y="626" width="43" height="15" fill="#d02f05"/>
<rect x="731" y="626" width="43" height="15" fill="#cc2b04"/>
<rect x="773" y="626" width="29" height="15" fill="#ca2a04"/>
<rect x="801" y="626" width="29" height="15" fill="#c82803"/>
<rect x="829" y="626" width="99" height="15" fill="#c32503"/>
<rect x="87" y="640" width="15" height="15" fill="#ed5510"/>
<rect x="101" y="640" width="15" height="15" fill="#ec530f"/>
<rect x="115" y="640" width="15" height="15" fill="#e84b0c"/>
<rect x="129" y="640" width="29" height="15" fill="#e4450a"/>
<rect x="157" y="640" width="57" height="15" fill="#e2430a"/>
<rect x="213" y="640" width="85" height="15" fill="#e4450a"/>
<rect x="297" y="640" width="85" height="15" fill="#e7490c"/>
<rect x="381" y="640" width="99" height="15" fill="#e84b0c"/>
<rect x="479" y="640" width="57" height="15" fill="#e7490c"/>
<rect x="535" y="640" width="15" height="15" fill="#e4450a"/>
<rect x="549" y="640" width="29" height="15" fill="#e2430a"/>
<rect x="577" y="640" width="15" height="15" fill="#df3f08"/>
<rect x="591" y="640" width="15" height="15" fill="#dd3d08"/>
<rect x="605" y="640" width="15" height="15" fill="#da3907"/>
<rect x="619" y="640" width="15" height="15" fill="#d83706"/>
<rect x="633" y="640" width="15" height="15" fill="#d63506"/>
<rect x="647" y="640" width="29" height="15" fill="#d23105"/>
<rect x="675" y="640" width="43" height="15" fill="#d02f05"/>
<rect x="717" y="640" width="43" height="15" fill="#cc2b04"/>
<rect x="759" y="640" width="29" height="15" fill="#ca2a04"/>
<rect x="787" y="640" width="43" height="15" fill="#c82803"/>
<rect x="829" y="640" width="43" height="15" fill="#c32503"/>
<rect x="871" y="640" width="43" height="15" fill="#c12302"/>
<rect x="913" y="640" width="15" height="15" fill="#c32503"/>
<rect x="87" y="654" width="15" height="15" fill="#ea4e0d"/>
<rect x="101" y="654" width="15" height="15" fill="#e7490c"/>
<rect x="115" y="654" width="15" height="15" fill="#e4450a"/>
<rect x="129" y="654" width="15" height="15" fill="#e2430a"/>
<rect x="143" y="654" width="57" height="15" fill="#df3f08"/>
<rect x="199" y="654" width="29" height="15" fill="#e2430a"/>
<rect x="227" y="654" width="113" height="15" fill="#e4450a"/>
<rect x="339" y="654" width="183" height="15" fill="#e7490c"/>
<rect x="521" y="654" width="15" height="15" fill="#e4450a"/>
<rect x="535" y="654" width="29" height="15" fill="#e2430a"/>
<rect x="563" y="654" width="15" height="15" fill="#df3f08"/>
<rect x="577" y="654" width="15" height="15" fill="#dd3d08"/>
<rect x="591" y="654" width="15" height="15" fill="#da3907"/>
<rect x="605" y="654" width="15" height="15" fill="#d83706"/>
<rect x="619" y="654" width="15" height="15" fill="#d63506"/>
<rect x="633" y="654" width="15" height="15" fill="#d23105"/>
<rect x="647" y="654" width="43" height="15" fill="#d02f05"/>
<rect x="689" y="654" width="57" height="15" fill="#cc2b04"/>
<rect x="745" y="654" width="43" height="15" fill="#ca2a04"/>
<rect x="787" y="654" width="29" height="15" fill="#c82803"/>
<rect x="815" y="654" width="43" height="15" fill="#c32503"/>
<rect x="857" y="654" width="71" height="15" fill="#c12302"/>
<rect x="87" y="668" width="15" height="15" fill="#e84b0c"/>
<rect x="101" y="668" width="15" height="15" fill="#e4450a"/>
<rect x="115" y="668" width="15" height="15" fill="#df3f08"/>
<rect x="129" y="668" width="57" height="15" fill="#dd3d08"/>
<rect x="185" y="668" width="29" height="15" fill="#df3f08"/>
<rect x="213" y="668" width="29" height="15" fill="#e2430a"/>
<rect x="241" y="668" width="127" height="15" fill="#e4450a"/>
<rect x="367" y="668" width="85" height="15" fill="#e7490c"/>
<rect x="451" y="668" width="85" height="15" fill="#e4450a"/>
<rect x="535" y="668" width="15" height="15" fill="#e2430a"/>
<rect x="549" y="668" width="15" height="15" fill="#df3f08"/>
<rect x="563" y="668" width="15" height="15" fill="#dd3d08"/>
<rect x="577" y="668" width="15" height="15" fill="#da3907"/>
<rect x="591" y="668" width="15" height="15" fill="#d83706"/>
<rect x="605" y="668" width="15" height="15" fill="#d63506"/>
<rect x="619" y="668" width="15" height="15" fill="#d23105"/>
<rect x="633" y="668" width="15" height="15" fill="#d02f05"/>
<rect x="647" y="668" width="71" height="15" fill="#cc2b04"/>
<rect x="717" y="668" width="57" height="15" fill="#ca2a04"/>
<rect x="773" y="668" width="29" height="15" fill="#c82803"/>
<rect x="801" y="668" width="43" height="15" fill="#c32503"/>
<rect x="843" y="668" width="85" height="15" fill="#c12302"/>
<rect x="87" y="682" width="15" height="15" fill="#e7490c"/>
<rect x="101" y="682" width="15" height="15" fill="#e2430a"/>
<rect x="115" y="682" width="29" height="15" fill="#dd3d08"/>
<rect x="143" y="682" width="15" height="15" fill="#da3907"/>
<rect x="157" y="682" width="43" height="15" fill="#dd3d08"/>
<rect x="199" y="682" width="29" height="15" fill="#df3f08"/>
<rect x="227" y="682" width="113" height="15" fill="#e2430a"/>
<rect x="339" y="682" width="155" height="15" fill="#e4450a"/>
<rect x="493" y="682" width="43" height="15" fill="#e2430a"/>
<rect x="535" y="682" width="15" height="15" fill="#df3f08"/>
<rect x="549" y="682" width="15" height="15" fill="#dd3d08"/>
<rect x="563" y="682" width="15" height="15" fill="#da3907"/>
<rect x="577" y="682" width="15" height="15" fill="#d83706"/>
<rect x="591" y="682" width="15" height="15" fill="#d63506"/>
<rect x="605" y="682" width="15" height="15" fill="#d23105"/>
<rect x="619" y="682" width="15" height="15" fill="#d02f05"/>
<rect x="633" y="682" width="43" height="15" fill="#cc2b04"/>
<rect x="675" y="682" width="85" height="15" fill="#ca2a04"/>
<rect x="759" y="682" width="43" height="15" fill="#c82803"/>
<rect x="801" y="682" width="29" height="15" fill="#c32503"/>
<rect x="829" y="682" width="99" height="15" fill="#c12302"/>
<rect x="87" y="696" width="15" height="15" fill="#e4450a"/>
<rect x="101" y="696" width="15" height="15" fill="#df3f08"/>
<rect x="115" y="696" width="15" height="15" fill="#dd3d08"/>
<rect x="129" y="696" width="57" height="15" fill="#da3907"/>
<rect x="185" y="696" width="29" height="15" fill="#dd3d08"/>
<rect x="213" y="696" width="99" height="15" fill="#df3f08"/>
<rect x="311" y="696" width="197" height="15" fill="#e2430a"/>
<rect x="507" y="696" width="29" height="15" fill="#df3f08"/>
<rect x="535" y="696" width="15" height="15" fill="#dd3d08"/>
<rect x="549" y="696" width="15" height="15" fill="#da3907"/>
<rect x="563" y="696" width="29" height="15" fill="#d83706"/>
<rect x="591" y="696" width="15" height="15" fill="#d63506"/>
<rect x="605" y="696" width="15" height="15" fill="#d23105"/>
<rect x="619" y="696" width="15" height="15" fill="#d02f05"/>
<rect x="633" y="696" width="29" height="15" fill="#cc2b04"/>
<rect x="661" y="696" width="71" height="15" fill="#ca2a04"/>
<rect x="731" y="696" width="57" height="15" fill="#c82803"/>
<rect x="787" y="696" width="43" height="15" fill="#c32503"/>
<rect x="829" y="696" width="99" height="15" fill="#c12302"/>
<rect x="87" y="710" width="15" height="15" fill="#e2430a"/>
<rect x="101" y="710" width="15" height="15" fill="#df3f08"/>
<rect x="115" y="710" width="15" height="15" fill="#dd3d08"/>
<rect x="129" y="710" width="71" height="15" fill="#da3907"/>
<rect x="199" y="710" width="57" height="15" fill="#dd3d08"/>
<rect x="255" y="710" width="113" height="15" fill="#df3f08"/>
<rect x="367" y="710" width="57" height="15" fill="#e2430a"/>
<rect x="423" y="710" width="85" height="15" fill="#df3f08"/>
<rect x="507" y="710" width="29" height="15" fill="#dd3d08"/>
<rect x="535" y="710" width="15" height="15" fill="#da3907"/>
<rect x="549" y="710" width="29" height="15" fill="#d83706"/>
<rect x="577" y="710" width="15" height="15" fill="#d63506"/>
<rect x="591" y="710" width="15" height="15" fill="#d23105"/>
<rect x="605" y="710" width="29" height="15" fill="#d02f05"/>
<rect x="633" y="710" width="15" height="15" fill="#cc2b04"/>
<rect x="647" y="710" width="43" height="15" fill="#ca2a04"/>
<rect x="689" y="710" width="85" height="15" fill="#c82803"/>
<rect x="773" y="710" width="43" height="15" fill="#c32503"/>
<rect x="815" y="710" width="113" height="15" fill="#c12302"/>
</g>
<g filter="url(#bg)" fill="#8e8e8e">
<path d="M723.6,410.0 728.2,401.8 744.5,401.5 754.5,399.1 755.5,394.5 752.7,387.3 757.3,379.1 768.2,372.7 777.3,368.2 781.8,371.8 772.7,378.2 765.5,385.5 763.6,394.5 760.0,403.6 749.1,408.7 735.5,408.7Z"/>
<ellipse cx="221" cy="397" rx="25" ry="19"/>
<ellipse cx="132" cy="383" rx="12" ry="6"/>
<ellipse cx="170" cy="380" rx="12" ry="5"/>
<ellipse cx="187" cy="459" rx="14" ry="4"/>
<ellipse cx="261" cy="443" rx="17" ry="7"/>
<ellipse cx="312" cy="482" rx="13" ry="6"/>
<ellipse cx="415" cy="455.5" rx="15" ry="3.5"/>
<ellipse cx="112" cy="487" rx="14" ry="4"/>
<ellipse cx="295.5" cy="330" rx="5" ry="20"/>
<ellipse cx="398" cy="285" rx="5" ry="14"/>
<ellipse cx="441" cy="400" rx="7" ry="8"/>
<ellipse cx="472" cy="436" rx="10" ry="11"/>
<ellipse cx="323" cy="238" rx="9" ry="7"/>
<ellipse cx="386" cy="231" rx="11" ry="10"/>
<path d="M345.0,470.0 410.0,472.0 468.0,467.0" fill="none" stroke="#8e8e8e" stroke-width="10" stroke-linecap="round" stroke-linejoin="round"/>
<path d="M345.0,460.0 362.0,456.0 372.0,451.0" fill="none" stroke="#8e8e8e" stroke-width="5" stroke-linecap="round" stroke-linejoin="round"/>
<path d="M535.0,459.0 560.0,454.0 620.0,443.0 670.0,433.0 700.0,426.0" fill="none" stroke="#8e8e8e" stroke-width="7" stroke-linecap="round" stroke-linejoin="round"/>
<ellipse cx="712" cy="418" rx="22" ry="7"/>
<ellipse cx="735" cy="398" rx="16" ry="12"/>
<path d="M798.0,300.0 850.0,300.0 850.0,342.0 798.0,342.0Z"/>
<path d="M866.0,300.0 906.0,300.0 906.0,324.0 866.0,324.0Z"/>
<path d="M730.0,405.0 745.0,392.0 760.0,381.0 775.0,373.0" fill="none" stroke="#8e8e8e" stroke-width="10" stroke-linecap="round" stroke-linejoin="round"/>
<path d="M775.0,400.0 820.0,399.0 860.0,391.0 898.0,385.0" fill="none" stroke="#8e8e8e" stroke-width="9" stroke-linecap="round" stroke-linejoin="round"/>
</g>
<g fill="#8e8e8e" stroke="#8e8e8e" stroke-width="4" stroke-linejoin="round">
<path d="M561.1,394.2 564.4,393.6 567.1,396.4 568.2,400.7 570.9,404.5 574.2,406.7 577.5,403.5 579.6,402.9 580.2,405.6 577.5,408.9 576.9,413.8 579.1,419.3 581.8,423.1 584.5,422.0 586.2,419.8 591.6,419.3 592.7,416.0 593.8,419.3 598.2,421.5 602.0,420.4 603.6,414.9 609.1,413.8 613.5,411.6 615.6,406.2 617.8,402.4 616.7,397.5 618.9,401.8 621.6,403.5 625.5,401.3 626.5,398.5 629.3,401.3 634.2,399.1 640.7,395.3 646.2,389.8 650.5,380.0 651.8,373.6 660.9,362.7 670.0,360.9 677.3,358.2 680.9,350.9 683.6,346.4 677.3,343.6 671.8,340.9 668.2,338.2 670.0,337.3 673.6,339.1 680.9,342.7 686.4,340.9 695.5,338.2 700.9,340.9 706.4,346.4 710.0,351.8 708.2,358.2 697.3,361.8 686.4,362.7 680.9,368.2 671.8,369.1 664.5,369.1 662.7,376.4 663.6,385.5 662.5,384.4 656.0,388.7 658.2,393.1 662.5,396.4 666.4,394.2 669.6,397.5 669.1,400.7 663.6,403.5 658.2,407.3 653.8,411.6 647.3,415.5 640.7,416.0 634.2,414.9 627.6,413.8 625.5,416.0 625.5,420.9 636.4,421.5 647.3,422.0 652.2,420.1 654.0,422.0 650.5,426.4 647.3,426.9 636.4,428.0 625.5,431.3 614.5,434.0 603.6,436.7 598.2,437.8 594.9,437.3 592.7,434.5 589.5,432.9 591.6,430.7 592.7,428.0 592.7,423.6 588.4,422.0 585.6,424.2 581.8,428.0 576.4,428.5 570.9,426.9 564.4,425.3 562.2,424.2 566.5,422.0 570.9,418.2 572.0,413.8 569.8,409.5 566.0,406.7 564.4,402.9 561.1,402.9 564.9,401.3 563.3,397.5Z"/>
<path d="M728.2,385.5 733.6,383.6 744.5,384.5 750.0,387.3 748.2,389.1 740.9,387.3 735.5,388.2 730.0,387.3Z"/>
<path d="M666.4,420.9 680.9,418.2 690.0,413.6 704.5,411.8 715.5,409.1 725.5,409.1 724.5,412.7 713.6,416.4 695.5,420.0 677.3,423.6 667.3,423.6Z"/>
<path d="M335.5,160.9 357.3,160.9 357.3,217.3 330.0,217.3 330.0,195.5Z"/>
<path d="M279.1,259.1 302.7,259.1 302.7,279.1 279.1,279.1Z"/>
<path d="M431.8,361.8 450.9,361.8 450.9,381.8 431.8,381.8Z"/>
<path d="M266.4,397.3 275.1,397.3 275.1,409.1 266.4,409.1Z"/>
<path d="M792.6,269.1 849.1,269.1 849.1,313.7 792.6,313.7Z"/>
<path d="M869.7,253.7 902.3,253.7 902.3,313.7 869.7,313.7Z"/>
</g>
<g fill="#000" stroke="#000" stroke-width="0.7" stroke-linejoin="miter">
<path d="M319.3,250.7 325.8,263.3 316.4,264.5Z"/>
<path d="M368.3,250.4 381.0,259.8 373.2,265.4Z"/>
<path d="M315.4,306.4 326.6,316.8 318.4,321.4Z"/>
<path d="M371.4,305.0 380.5,315.4 371.7,318.8Z"/>
<path d="M315.4,359.0 325.4,369.6 316.8,373.6Z"/>
<path d="M370.7,360.7 381.1,370.4 372.7,374.8Z"/>
<path d="M161.6,419.4 154.7,432.5 148.1,425.7Z"/>
<path d="M209.6,416.0 215.2,427.6 205.8,428.4Z"/>
<path d="M286.0,424.4 274.6,431.6 272.6,422.4Z"/>
<path d="M145.6,467.6 157.7,476.5 149.9,481.9Z"/>
<path d="M215.0,468.6 217.0,483.2 207.6,481.4Z"/>
<path d="M264.0,469.0 270.4,482.4 261.0,483.6Z"/>
<path d="M140.0,520.6 153.1,527.0 146.4,533.7Z"/><path d="M154.4,535.0L149.8,530.4" stroke-width="1.5" fill="none"/>
<path d="M194.0,522.4 207.6,527.6 201.5,534.9Z"/><path d="M209.0,535.0L204.6,531.3" stroke-width="1.5" fill="none"/>
<path d="M253.0,525.6 267.4,531.9 261.2,539.1Z"/>
<path d="M303.6,526.6 318.8,529.9 314.0,538.1Z"/>
<path d="M146.0,580.0 158.7,588.6 151.3,594.4Z"/>
<path d="M200.0,576.0 212.9,586.3 205.1,591.7Z"/>
<path d="M252.0,578.6 265.8,585.6 259.0,592.4Z"/>
<path d="M306.0,581.0 320.9,586.2 315.1,593.8Z"/>
<path d="M139.0,634.0 152.8,638.7 147.0,646.2Z"/><path d="M154.4,646.0L149.9,642.5" stroke-width="1.5" fill="none"/>
<path d="M198.0,632.6 210.0,640.5 202.4,646.3Z"/>
<path d="M258.0,631.0 267.8,643.1 259.0,646.5Z"/>
<path d="M308.0,634.0 321.1,641.4 314.1,647.8Z"/>
<path d="M148.6,684.0 157.9,695.4 148.9,698.6Z"/>
<path d="M205.0,683.0 213.0,694.8 203.8,697.2Z"/>
<path d="M256.0,684.0 267.4,692.8 259.4,698.0Z"/>
<path d="M306.0,692.0 321.0,693.7 317.0,702.3Z"/>
<path d="M322.0,409.0 325.7,423.9 316.3,423.3Z"/>
<path d="M383.6,415.0 380.4,429.5 372.2,424.5Z"/>
<path d="M442.4,423.0 429.9,431.7 427.1,422.7Z"/>
<path d="M323.0,464.4 326.3,480.0 316.9,479.2Z"/>
<path d="M360.0,479.0 375.6,476.1 374.4,485.5Z"/>
<path d="M418.0,479.0 432.7,476.3 431.3,485.7Z"/>
<path d="M475.0,483.6 488.9,476.7 490.3,486.1Z"/>
<path d="M360.0,530.4 375.8,530.9 372.6,539.9Z"/>
<path d="M415.6,532.4 431.2,531.0 429.2,540.2Z"/>
<path d="M471.0,533.0 485.6,531.4 483.6,540.6Z"/>
<path d="M359.6,585.4 375.7,586.4 372.3,595.2Z"/>
<path d="M415.0,587.4 430.7,586.4 428.5,595.6Z"/>
<path d="M470.0,587.4 485.6,586.6 483.2,595.8Z"/>
<path d="M360.4,642.0 376.6,641.4 374.2,650.6Z"/>
<path d="M413.0,644.0 429.4,641.3 428.2,650.7Z"/>
<path d="M473.0,636.0 487.2,642.5 480.8,649.5Z"/>
<path d="M360.0,699.4 374.6,693.5 375.4,702.9Z"/>
<path d="M420.0,694.0 435.8,695.2 432.2,704.0Z"/>
<path d="M464.0,695.4 479.9,694.8 477.3,704.0Z"/>
<path d="M699.0,429.0 710.3,418.9 714.1,427.7Z"/>
<path d="M530.0,482.4 544.1,475.5 545.5,484.9Z"/>
<path d="M583.0,485.0 596.8,476.6 599.2,485.8Z"/>
<path d="M636.0,483.0 650.5,476.7 651.5,486.1Z"/>
<path d="M695.0,475.6 710.2,477.5 706.2,486.1Z"/>
<path d="M525.6,536.0 541.1,531.5 540.9,540.9Z"/>
<path d="M583.0,536.0 598.6,531.9 598.2,541.3Z"/>
<path d="M638.6,531.6 653.8,532.1 650.6,541.1Z"/>
<path d="M685.0,542.4 697.0,534.1 699.6,543.2Z"/><path d="M705.6,536.6L698.3,538.7" stroke-width="1.5" fill="none"/>
<path d="M528.0,583.0 543.0,587.2 537.8,595.2Z"/>
<path d="M578.0,586.0 593.4,589.7 588.6,597.9Z"/>
<path d="M627.0,596.0 639.8,589.0 641.4,598.4Z"/><path d="M651.0,592.0L640.6,593.7" stroke-width="1.5" fill="none"/>
<path d="M690.0,591.6 704.8,589.3 703.2,598.7Z"/>
<path d="M518.4,641.4 532.9,640.0 530.7,649.2Z"/><path d="M540.0,646.6L531.8,644.6" stroke-width="1.5" fill="none"/>
<path d="M565.4,648.0 579.0,642.6 579.4,652.1Z"/><path d="M595.0,646.6L579.2,647.3" stroke-width="1.5" fill="none"/>
<path d="M622.0,640.0 636.5,638.2 634.5,647.5Z"/><path d="M650.0,646.0L635.5,642.9" stroke-width="1.5" fill="none"/>
<path d="M673.6,640.0 688.0,637.9 686.3,647.3Z"/><path d="M705.0,646.0L687.2,642.6" stroke-width="1.5" fill="none"/>
<path d="M753.6,418.0 766.9,425.1 759.9,431.7Z"/>
<path d="M801.0,430.0 815.0,422.2 817.0,431.4Z"/>
<path d="M855.6,430.4 869.0,422.0 871.4,431.2Z"/>
<path d="M740.0,484.0 753.0,477.3 754.3,486.7Z"/><path d="M760.4,481.0L753.7,482.0" stroke-width="1.5" fill="none"/>
<path d="M797.0,484.0 809.9,477.2 811.4,486.6Z"/><path d="M816.4,481.0L810.6,481.9" stroke-width="1.5" fill="none"/>
<path d="M850.0,484.4 862.9,477.6 864.4,486.9Z"/><path d="M871.6,481.0L863.6,482.3" stroke-width="1.5" fill="none"/>
<path d="M739.0,538.0 752.3,532.0 753.2,541.4Z"/><path d="M760.4,536.0L752.7,536.7" stroke-width="1.5" fill="none"/>
<path d="M793.0,538.0 806.3,532.1 807.2,541.5Z"/><path d="M815.6,536.0L806.7,536.8" stroke-width="1.5" fill="none"/>
<path d="M841.0,548.0 852.2,538.6 855.6,547.5Z"/><path d="M870.6,536.6L853.9,543.0" stroke-width="1.5" fill="none"/>
<path d="M744.0,592.0 758.0,588.5 757.2,597.9Z"/>
<path d="M798.0,604.6 806.8,592.9 812.1,600.8Z"/><path d="M816.0,592.4L809.4,596.9" stroke-width="1.5" fill="none"/>
<path d="M854.4,605.4 862.4,593.2 868.2,600.7Z"/><path d="M871.0,592.6L865.3,597.0" stroke-width="1.5" fill="none"/>
<path d="M730.0,644.0 744.1,640.2 743.5,649.7Z"/><path d="M760.0,646.0L743.8,644.9" stroke-width="1.5" fill="none"/>
<path d="M791.6,647.0 805.4,642.2 805.4,651.8Z"/><path d="M816.0,647.0L805.4,647.0" stroke-width="1.5" fill="none"/>
<path d="M858.0,651.4 871.0,641.5 874.2,650.5Z"/>
<path d="M821.7,360.9 820.7,375.2 811.9,371.4Z"/>
<path d="M882.6,368.9 869.2,370.7 869.4,365.9Z"/>
</g>
<path d="M90.0,396.7 98.0,396.7 101.8,396.5 106.7,395.9 111.1,394.3 119.8,403.0 125.3,401.9 130.7,399.2 135.1,395.9 138.4,393.7 137.3,392.3 134.0,393.7 131.3,395.4 130.2,391.0 129.1,386.6 126.4,383.9 123.6,382.8 122.2,380.6 123.6,378.5 127.5,378.8 129.6,380.6 130.7,378.5 134.0,376.8 135.6,380.1 137.8,378.5 138.9,375.7 143.8,373.0 146.5,371.4 144.9,376.3 143.8,378.5 146.0,377.9 148.7,374.1 150.4,370.3 152.5,367.5 155.8,368.1 158.5,369.7 161.8,368.6 164.5,369.7 167.8,371.4 172.2,372.5 174.4,375.2 176.0,376.8 173.3,378.5 173.3,380.6 176.0,381.2 176.5,383.9 174.4,386.1 177.1,387.2 179.8,386.6 181.5,382.8 182.0,379.5 185.3,377.4 188.5,376.3 192.9,377.4 196.2,379.5 202.7,381.2 209.3,382.3 213.6,383.4 218.2,385.5 225.5,386.4 234.5,390.0 243.6,390.9 250.0,389.6 244.5,391.5 243.6,400.9 239.1,402.7 240.9,406.4 240.0,411.8 243.6,415.5 250.9,413.6 258.2,410.9 263.0,409.0 267.0,407.2 270.0,405.5 271.8,406.2 269.8,408.2 268.0,411.0 267.5,414.0 269.0,416.5 273.0,417.5 274.5,416.0 275.0,412.0 278.0,408.0 280.0,405.0 284.5,399.1 288.2,391.8 290.0,380.9 291.8,366.4 292.7,353.6 290.9,344.5 288.2,342.7 291.8,337.3 295.5,330.0 292.7,320.9 293.6,311.8 299.1,297.3 304.5,290.0 303.6,284.5 301.8,278.2 297.3,273.6 290.0,270.9 287.3,266.4 284.5,260.9 280.9,263.6 283.6,266.4 286.4,270.9 290.0,273.6 297.3,275.8 302.4,277.3 304.5,274.5 309.1,271.5 313.6,268.2 315.5,262.7 317.6,257.3 318.2,251.8 317.3,246.4 317.7,242.3 315.9,239.5 316.4,236.8 318.6,235.9 317.7,232.3 317.7,230.5 321.4,227.7 325.9,225.9 325.5,227.7 321.8,230.0 320.0,233.2 323.2,234.1 327.7,233.2 329.5,231.4 330.5,228.6 329.1,225.0 328.2,218.6 328.6,214.5 330.0,218.6 331.4,224.1 332.3,227.7 334.1,229.5 336.8,230.5 337.3,226.8 335.9,224.1 337.7,222.3 337.3,218.6 335.0,215.9 332.3,214.1 335.0,213.6 338.6,216.8 340.9,215.5 342.7,213.2 341.0,210.6 337.0,209.2 334.1,207.7 334.3,205.7 336.4,202.3 337.0,197.7 338.8,198.6 341.2,199.1 342.3,202.3 342.5,207.0 344.1,208.8 345.5,205.9 345.5,200.5 344.1,196.4 341.8,193.2 340.9,189.5 339.7,185.0 338.8,181.4 337.9,177.3 337.7,172.3 339.7,167.5 343.2,164.4 347.5,163.2 348.8,163.6 348.8,178.2 345.0,179.1 345.9,180.9 343.6,182.3 341.8,185.0 342.3,189.5 343.6,193.2 345.9,195.9 347.7,197.7 349.5,197.7 350.5,195.9 351.8,193.6 354.1,193.6 354.5,195.9 352.3,198.6 350.5,202.3 350.5,205.5 352.3,204.5 354.1,205.9 352.3,208.6 349.5,211.4 349.1,217.7 355.9,219.1 363.2,220.9 367.7,222.3 370.0,225.0 371.8,229.1 374.1,225.9 377.7,223.2 382.3,223.0 384.1,225.0 383.2,227.7 385.9,231.4 388.6,235.9 390.9,238.6 392.7,232.3 394.5,232.3 393.6,237.7 392.3,242.3 394.5,246.8 395.9,250.0 395.5,251.8 395.8,259.1 394.5,266.4 397.3,273.6 400.0,280.9 400.9,290.0 395.5,299.1 388.2,310.0 382.7,320.9 381.8,324.5 388.2,328.2 391.8,333.6 393.6,342.7 395.5,353.6 397.3,362.7 404.5,368.2 415.5,374.5 426.4,380.0 436.4,383.6 435.5,377.3 433.6,371.8 436.4,368.2 440.9,363.6 443.6,364.5 444.5,370.0 449.1,374.5 446.4,376.4 441.8,377.3 440.0,383.6 437.3,390.0 440.9,397.3 448.2,404.5 459.1,411.8 470.0,417.3 477.3,424.5 483.6,429.1 486.4,427.3 497.3,424.5 491.8,427.3 484.5,431.8 480.9,435.5 475.5,442.7 468.2,447.3 457.3,450.0 446.4,451.8 435.5,452.7 424.5,456.4 413.6,459.1 406.4,457.3 399.1,454.5 393.6,451.8 390.0,449.1 382.7,446.4 375.5,448.2 370.9,452.7 369.1,458.2 362.7,460.0 355.5,461.3 348.2,462.4 340.9,463.1 337.6,463.6 336.4,466.0 337.6,468.2 348.2,466.7 362.7,464.9 377.3,464.2 384.5,463.6 399.1,464.5 417.3,466.0 435.5,466.4 453.6,465.5 464.5,464.5 475.5,461.8 490.0,460.0 506.4,457.3 533.6,454.5 560.9,449.1 588.2,440.9 597.3,438.2 615.5,436.4 633.6,433.6 651.8,430.0 670.0,426.4 668.2,425.5 686.4,421.8 704.5,416.4 719.1,412.7 725.5,410.0 726.4,406.4 730.0,402.7 744.5,402.7 753.6,400.9 756.4,398.2 754.5,392.7 753.6,387.3 751.8,384.5 757.3,380.0 763.6,374.5 773.6,370.0 779.1,367.3 782.3,366.9 789.1,363.4 794.3,358.3 796.9,359.1 804.6,353.1 806.3,344.6 810.6,337.7 811.4,329.1 814.9,324.0 816.6,318.9 812.3,315.4 810.6,307.7 802.9,303.4 796.9,298.3 796.9,293.1 802.9,290.6 802.0,285.4 796.9,283.7 798.6,280.3 795.1,276.0 801.1,270.9 811.4,271.7 814.9,276.0 818.3,282.9 823.4,288.0 832.0,289.7 831.1,293.1 826.9,292.3 826.0,296.6 832.0,300.0 840.6,304.3 845.7,310.3 844.0,317.1 844.9,329.1 843.1,339.4 841.4,345.4 845.7,348.9 849.1,349.7 856.0,346.3 862.9,344.6 865.4,336.0 868.9,325.7 872.3,317.1 873.1,308.6 878.3,301.7 880.0,294.9 888.6,291.4 893.7,286.3 895.4,279.4 897.1,275.1 893.7,270.9 886.9,264.0 884.3,257.1 888.6,258.9 892.0,265.7 902.3,273.4 910.0,140.0 90.0,140.0ZM561.1,394.2 564.4,393.6 567.1,396.4 568.2,400.7 570.9,404.5 574.2,406.7 577.5,403.5 579.6,402.9 580.2,405.6 577.5,408.9 576.9,413.8 579.1,419.3 581.8,423.1 584.5,422.0 586.2,419.8 591.6,419.3 592.7,416.0 593.8,419.3 598.2,421.5 602.0,420.4 603.6,414.9 609.1,413.8 613.5,411.6 615.6,406.2 617.8,402.4 616.7,397.5 618.9,401.8 621.6,403.5 625.5,401.3 626.5,398.5 629.3,401.3 634.2,399.1 640.7,395.3 646.2,389.8 650.5,380.0 651.8,373.6 660.9,362.7 670.0,360.9 677.3,358.2 680.9,350.9 683.6,346.4 677.3,343.6 671.8,340.9 668.2,338.2 670.0,337.3 673.6,339.1 680.9,342.7 686.4,340.9 695.5,338.2 700.9,340.9 706.4,346.4 710.0,351.8 708.2,358.2 697.3,361.8 686.4,362.7 680.9,368.2 671.8,369.1 664.5,369.1 662.7,376.4 663.6,385.5 662.5,384.4 656.0,388.7 658.2,393.1 662.5,396.4 666.4,394.2 669.6,397.5 669.1,400.7 663.6,403.5 658.2,407.3 653.8,411.6 647.3,415.5 640.7,416.0 634.2,414.9 627.6,413.8 625.5,416.0 625.5,420.9 636.4,421.5 647.3,422.0 652.2,420.1 654.0,422.0 650.5,426.4 647.3,426.9 636.4,428.0 625.5,431.3 614.5,434.0 603.6,436.7 598.2,437.8 594.9,437.3 592.7,434.5 589.5,432.9 591.6,430.7 592.7,428.0 592.7,423.6 588.4,422.0 585.6,424.2 581.8,428.0 576.4,428.5 570.9,426.9 564.4,425.3 562.2,424.2 566.5,422.0 570.9,418.2 572.0,413.8 569.8,409.5 566.0,406.7 564.4,402.9 561.1,402.9 564.9,401.3 563.3,397.5ZM728.2,385.5 733.6,383.6 744.5,384.5 750.0,387.3 748.2,389.1 740.9,387.3 735.5,388.2 730.0,387.3ZM666.4,420.9 680.9,418.2 690.0,413.6 704.5,411.8 715.5,409.1 725.5,409.1 724.5,412.7 713.6,416.4 695.5,420.0 677.3,423.6 667.3,423.6Z" fill="#0f6b26" fill-rule="evenodd" stroke="#000" stroke-width="1.3" stroke-linejoin="round"/>
<g fill="#0f6b26" stroke="#000" stroke-width="1.3" stroke-linejoin="round">
<path d="M902.3,276.9 898.5,276.9 897.7,284.6 897.1,291.4 892.0,305.1 890.3,308.6 897.1,318.9 902.3,319.7Z"/>
<path d="M156.4,374.6 160.2,374.1 164.5,375.2 164.0,376.8 159.1,377.1 156.7,376.3Z"/>
<path d="M131.8,382.8 134.0,382.3 135.3,383.6 133.5,384.7 131.8,384.0Z"/>
<path d="M107.3,412.3 110.0,411.5 112.2,412.6 111.6,414.5 108.9,414.8 107.3,413.7Z"/>
<path d="M184.7,385.8 186.9,385.3 188.1,386.4 186.6,387.4 184.9,387.0Z"/>
<path d="M200.5,405.2 202.7,398.6 204.4,392.1 205.5,387.2 208.2,386.6 208.7,393.2 208.2,400.8 207.6,411.7 205.5,412.8 202.7,409.5Z"/>
<path d="M221.5,413.3 225.5,412.2 227.6,414.0 225.5,415.5 221.8,415.1Z"/>
<path d="M230.5,413.6 233.1,413.3 234.2,415.5 231.8,416.2Z"/>
<path d="M170.9,463.1 174.5,461.8 185.5,462.4 198.2,460.9 209.1,458.2 220.0,456.4 230.9,455.5 241.8,454.0 256.4,451.8 274.5,450.0 283.6,444.5 287.3,446.4 300.0,451.8 300.9,448.2 303.6,452.7 292.7,457.3 281.8,456.4 274.5,453.6 263.6,454.0 245.5,455.8 230.9,457.3 216.4,460.0 201.8,463.6 187.3,466.0 176.4,466.4 171.8,464.9Z"/>
<path d="M275.0,432.5 280.0,432.0 283.0,435.0 288.0,438.0 294.0,442.0 300.0,447.0 304.0,450.0 300.0,449.5 294.0,447.0 288.0,444.0 284.0,442.0 281.0,440.5 280.0,437.0 277.0,435.0Z"/>
<path d="M99.1,478.2 110.9,475.8 121.8,474.5 128.7,474.5 127.3,476.9 118.2,479.5 109.1,481.8 99.1,483.1Z"/>
<path d="M291.8,471.8 297.3,476.4 304.5,479.1 312.7,480.0 312.7,481.3 303.6,480.9 296.4,478.2 291.5,473.6Z"/>
<path d="M603.6,423.9 609.1,421.5 614.0,420.1 616.2,422.0 616.5,425.8 612.4,429.3 606.9,431.9 602.8,433.0 601.7,431.1 596.5,430.4 600.6,426.7Z"/>
<path d="M625.5,426.7 629.8,425.4 640.7,424.1 647.3,423.5 651.1,422.0 652.9,422.8 650.3,425.8 647.3,426.5 636.4,427.5 625.5,430.2 621.1,431.1 620.7,428.2Z"/>
<path d="M784.9,392.6 794.3,387.4 801.1,386.6 802.0,384.0 804.6,387.4 816.6,386.6 823.4,380.6 835.4,375.4 849.1,371.1 862.9,369.4 880.0,369.4 890.3,367.7 902.3,364.8 902.3,377.7 880.0,380.6 862.9,383.1 845.7,385.7 828.6,390.0 814.9,394.3 804.6,397.7 796.9,402.0 790.9,396.9Z"/>
<path d="M732.7,409.1 737.3,408.2 744.5,410.0 753.6,413.6 762.7,414.9 777.3,413.6 795.5,410.5 811.8,407.3 815.5,403.6 817.3,400.9 820.0,404.5 831.8,403.6 832.0,403.7 854.3,399.4 871.4,395.1 874.9,391.7 876.6,395.1 902.3,390.5 902.3,394.8 880.0,398.6 854.3,402.9 828.6,408.0 813.6,410.9 795.5,413.6 777.3,416.4 762.7,418.2 751.8,417.3 740.9,414.5 733.6,411.8Z"/>
</g>
<g fill="#000"><circle cx="325.6" cy="240" r="1"/><circle cx="325.6" cy="244.5" r="1"/><circle cx="326.4" cy="253.6" r="1"/><circle cx="326.7" cy="259" r="1"/></g>
<path d="M210.2,150V702M348.2,150V702M486.2,150V702M624.2,150V702M762.2,150V702M100,177.8H901M100,315.6H901M100,453.4H901M100,591.2H901" stroke="#f4fff4" stroke-width="2.3" fill="none" stroke-opacity="0.55"/>
<path d="M117,386.6L123.4,393L117,399.4L110.6,393Z" fill="#f7f014" stroke="#000" stroke-width="1.9" stroke-linejoin="miter"/>
<path d="M300.5,294.1L306.9,300.5L300.5,306.9L294.1,300.5Z" fill="#f7f014" stroke="#000" stroke-width="1.9" stroke-linejoin="miter"/>
<path d="M342,343.6L348.4,350L342,356.4L335.6,350Z" fill="#f7f014" stroke="#000" stroke-width="1.9" stroke-linejoin="miter"/>
<path d="M270.5,415.1L276.9,421.5L270.5,427.9L264.1,421.5Z" fill="#f7f014" stroke="#000" stroke-width="1.9" stroke-linejoin="miter"/>
<path d="M230.5,442.6L236.9,449L230.5,455.4L224.1,449Z" fill="#f7f014" stroke="#000" stroke-width="1.9" stroke-linejoin="miter"/>
<path d="M307,446.6L313.4,453L307,459.4L300.6,453Z" fill="#f7f014" stroke="#000" stroke-width="1.9" stroke-linejoin="miter"/>
<path d="M334.5,458.6L340.9,465L334.5,471.4L328.1,465Z" fill="#f7f014" stroke="#000" stroke-width="1.9" stroke-linejoin="miter"/>
<path d="M783.5,362.1L789.9,368.5L783.5,374.9L777.1,368.5Z" fill="#f7f014" stroke="#000" stroke-width="1.9" stroke-linejoin="miter"/>
<path d="M597.5,551.6L603.9,558L597.5,564.4L591.1,558Z" fill="#f7f014" stroke="#000" stroke-width="1.9" stroke-linejoin="miter"/>
</g>
<g stroke="#000" fill="none">
<rect x="100.8" y="150" width="799.4" height="551.8" stroke-width="2.7"/>
<path d="M99.8,150v-4.0M99.8,701.8v4.0M113.6,150v-4.0M113.6,701.8v4.0M127.4,150v-4.0M127.4,701.8v4.0M141.2,150v-4.0M141.2,701.8v4.0M155.0,150v-4.0M155.0,701.8v4.0M168.8,150v-4.0M168.8,701.8v4.0M182.6,150v-4.0M182.6,701.8v4.0M196.4,150v-4.0M196.4,701.8v4.0M210.2,150v-7.3M210.2,701.8v7.3M224.0,150v-4.0M224.0,701.8v4.0M237.8,150v-4.0M237.8,701.8v4.0M251.6,150v-4.0M251.6,701.8v4.0M265.4,150v-4.0M265.4,701.8v4.0M279.2,150v-4.0M279.2,701.8v4.0M293.0,150v-4.0M293.0,701.8v4.0M306.8,150v-4.0M306.8,701.8v4.0M320.6,150v-4.0M320.6,701.8v4.0M334.4,150v-4.0M334.4,701.8v4.0M348.2,150v-7.3M348.2,701.8v7.3M362.0,150v-4.0M362.0,701.8v4.0M375.8,150v-4.0M375.8,701.8v4.0M389.6,150v-4.0M389.6,701.8v4.0M403.4,150v-4.0M403.4,701.8v4.0M417.2,150v-4.0M417.2,701.8v4.0M431.0,150v-4.0M431.0,701.8v4.0M444.8,150v-4.0M444.8,701.8v4.0M458.6,150v-4.0M458.6,701.8v4.0M472.4,150v-4.0M472.4,701.8v4.0M486.2,150v-7.3M486.2,701.8v7.3M500.0,150v-4.0M500.0,701.8v4.0M513.8,150v-4.0M513.8,701.8v4.0M527.6,150v-4.0M527.6,701.8v4.0M541.4,150v-4.0M541.4,701.8v4.0M555.2,150v-4.0M555.2,701.8v4.0M569.0,150v-4.0M569.0,701.8v4.0M582.8,150v-4.0M582.8,701.8v4.0M596.6,150v-4.0M596.6,701.8v4.0M610.4,150v-4.0M610.4,701.8v4.0M624.2,150v-7.3M624.2,701.8v7.3M638.0,150v-4.0M638.0,701.8v4.0M651.8,150v-4.0M651.8,701.8v4.0M665.6,150v-4.0M665.6,701.8v4.0M679.4,150v-4.0M679.4,701.8v4.0M693.2,150v-4.0M693.2,701.8v4.0M707.0,150v-4.0M707.0,701.8v4.0M720.8,150v-4.0M720.8,701.8v4.0M734.6,150v-4.0M734.6,701.8v4.0M748.4,150v-4.0M748.4,701.8v4.0M762.2,150v-7.3M762.2,701.8v7.3M776.0,150v-4.0M776.0,701.8v4.0M789.8,150v-4.0M789.8,701.8v4.0M803.6,150v-4.0M803.6,701.8v4.0M817.4,150v-4.0M817.4,701.8v4.0M831.2,150v-4.0M831.2,701.8v4.0M845.0,150v-4.0M845.0,701.8v4.0M858.8,150v-4.0M858.8,701.8v4.0M872.6,150v-4.0M872.6,701.8v4.0M886.4,150v-4.0M886.4,701.8v4.0M900.2,150v-7.3M900.2,701.8v7.3M100.8,150.2h-4.0M900.2,150.2h4.0M100.8,164.0h-4.0M900.2,164.0h4.0M100.8,177.8h-7.3M900.2,177.8h7.3M100.8,191.6h-4.0M900.2,191.6h4.0M100.8,205.4h-4.0M900.2,205.4h4.0M100.8,219.1h-4.0M900.2,219.1h4.0M100.8,232.9h-4.0M900.2,232.9h4.0M100.8,246.7h-4.0M900.2,246.7h4.0M100.8,260.5h-4.0M900.2,260.5h4.0M100.8,274.3h-4.0M900.2,274.3h4.0M100.8,288.0h-4.0M900.2,288.0h4.0M100.8,301.8h-4.0M900.2,301.8h4.0M100.8,315.6h-7.3M900.2,315.6h7.3M100.8,329.4h-4.0M900.2,329.4h4.0M100.8,343.2h-4.0M900.2,343.2h4.0M100.8,356.9h-4.0M900.2,356.9h4.0M100.8,370.7h-4.0M900.2,370.7h4.0M100.8,384.5h-4.0M900.2,384.5h4.0M100.8,398.3h-4.0M900.2,398.3h4.0M100.8,412.1h-4.0M900.2,412.1h4.0M100.8,425.8h-4.0M900.2,425.8h4.0M100.8,439.6h-4.0M900.2,439.6h4.0M100.8,453.4h-7.3M900.2,453.4h7.3M100.8,467.2h-4.0M900.2,467.2h4.0M100.8,481.0h-4.0M900.2,481.0h4.0M100.8,494.7h-4.0M900.2,494.7h4.0M100.8,508.5h-4.0M900.2,508.5h4.0M100.8,522.3h-4.0M900.2,522.3h4.0M100.8,536.1h-4.0M900.2,536.1h4.0M100.8,549.9h-4.0M900.2,549.9h4.0M100.8,563.6h-4.0M900.2,563.6h4.0M100.8,577.4h-4.0M900.2,577.4h4.0M100.8,591.2h-7.3M900.2,591.2h7.3M100.8,605.0h-4.0M900.2,605.0h4.0M100.8,618.8h-4.0M900.2,618.8h4.0M100.8,632.5h-4.0M900.2,632.5h4.0M100.8,646.3h-4.0M900.2,646.3h4.0M100.8,660.1h-4.0M900.2,660.1h4.0M100.8,673.9h-4.0M900.2,673.9h4.0M100.8,687.7h-4.0M900.2,687.7h4.0M100.8,701.4h-4.0M900.2,701.4h4.0" stroke-width="1.5"/>
</g>
<g class="ax" text-anchor="middle">
<text x="210.9" y="135.5" textLength="37.4" lengthAdjust="spacingAndGlyphs">−88°15'</text><text x="210.9" y="725" textLength="37.4" lengthAdjust="spacingAndGlyphs">−88°15'</text>
<text x="348.9" y="135.5" textLength="37.4" lengthAdjust="spacingAndGlyphs">−88°00'</text><text x="348.9" y="725" textLength="37.4" lengthAdjust="spacingAndGlyphs">−88°00'</text>
<text x="486.9" y="135.5" textLength="37.4" lengthAdjust="spacingAndGlyphs">−87°45'</text><text x="486.9" y="725" textLength="37.4" lengthAdjust="spacingAndGlyphs">−87°45'</text>
<text x="624.9" y="135.5" textLength="37.4" lengthAdjust="spacingAndGlyphs">−87°30'</text><text x="624.9" y="725" textLength="37.4" lengthAdjust="spacingAndGlyphs">−87°30'</text>
<text x="762.9" y="135.5" textLength="37.4" lengthAdjust="spacingAndGlyphs">−87°15'</text><text x="762.9" y="725" textLength="37.4" lengthAdjust="spacingAndGlyphs">−87°15'</text>
<text x="900.9" y="135.5" textLength="37.4" lengthAdjust="spacingAndGlyphs">−87°00'</text><text x="900.9" y="725" textLength="37.4" lengthAdjust="spacingAndGlyphs">−87°00'</text>
</g>
<g class="ax">
<text x="53.8" y="182.0" textLength="31.2" lengthAdjust="spacingAndGlyphs">30°45'</text><text x="914.5" y="182.0" textLength="31.2" lengthAdjust="spacingAndGlyphs">30°45'</text>
<text x="53.8" y="319.8" textLength="31.2" lengthAdjust="spacingAndGlyphs">30°30'</text><text x="914.5" y="319.8" textLength="31.2" lengthAdjust="spacingAndGlyphs">30°30'</text>
<text x="53.8" y="457.6" textLength="31.2" lengthAdjust="spacingAndGlyphs">30°15'</text><text x="914.5" y="457.6" textLength="31.2" lengthAdjust="spacingAndGlyphs">30°15'</text>
<text x="53.8" y="595.4" textLength="31.2" lengthAdjust="spacingAndGlyphs">30°00'</text><text x="914.5" y="595.4" textLength="31.2" lengthAdjust="spacingAndGlyphs">30°00'</text>
</g>
<text class="h" x="398.6" y="29.5" font-size="18.1" font-weight="bold" textLength="203" lengthAdjust="spacingAndGlyphs">Mobile Bay (AMSEAS)</text>
<text class="h" x="398.6" y="796.2" font-size="18.1" font-weight="bold" textLength="203" lengthAdjust="spacingAndGlyphs">Mobile Bay (AMSEAS)</text>
<text class="t" x="280" y="114.4" font-size="17.6" textLength="439.6" lengthAdjust="spacingAndGlyphs">Salinity at 26 Feet FORECAST valid Sep 25 2024 03:00Z</text>
<text class="t" x="832.3" y="110" font-size="13.7" textLength="67.4" lengthAdjust="spacingAndGlyphs">Mobile Bay</text>
<path d="M120.2,38.3L126.9,45L120.2,51.7L113.5,45Z" fill="#f7f014" stroke="#000" stroke-width="2.0" stroke-linejoin="miter"/>
<text class="h" x="130" y="49.5" font-size="12.5" font-weight="bold" textLength="91.4" lengthAdjust="spacingAndGlyphs">NDBC Station</text>
<rect x="556.5" y="40" width="338.5" height="39.6" fill="#fff" stroke="#000" stroke-width="2"/>
<g class="h" font-size="11" font-weight="bold"><text x="561" y="54.4" textLength="46" lengthAdjust="spacingAndGlyphs">1.00 kts</text><text x="561" y="64.4" textLength="46" lengthAdjust="spacingAndGlyphs">2.00 kts</text><text x="561" y="74.4" textLength="46" lengthAdjust="spacingAndGlyphs">3.00 kts</text></g>
<path d="M795.5,50.4H879" stroke="#222" stroke-width="0.7" fill="none"/><path d="M892.6,50.4L878.3,45.5V55.3Z" fill="#000"/>
<path d="M706.3,60.4H879" stroke="#222" stroke-width="0.7" fill="none"/><path d="M892.6,60.4L878.3,55.5V65.3Z" fill="#000"/>
<path d="M616.8,70.5H879" stroke="#222" stroke-width="0.7" fill="none"/><path d="M892.6,70.5L878.3,65.6V75.4Z" fill="#000"/>
<text class="h" x="557" y="93.8" font-size="10.4" font-weight="bold" textLength="105" lengthAdjust="spacingAndGlyphs">CURRENTS Vectors</text>
<rect x="980.2" y="275.8" width="20.4" height="300" fill="url(#cb)" stroke="#000" stroke-width="3"/>
<g stroke="#222" stroke-width="1.2">
<path d="M1000,275.8H1008"/>
<path d="M1000,325.8H1008"/>
<path d="M1000,375.8H1008"/>
<path d="M1000,425.8H1008"/>
<path d="M1000,475.8H1008"/>
<path d="M1000,525.8H1008"/>
<path d="M1000,575.8H1008"/>
</g>
<g stroke="#b8b8b8" stroke-width="1.2">
<path d="M979.2,275.8H1000"/>
<path d="M979.2,325.8H1000"/>
<path d="M979.2,375.8H1000"/>
<path d="M979.2,425.8H1000"/>
<path d="M979.2,475.8H1000"/>
<path d="M979.2,525.8H1000"/>
<path d="M979.2,575.8H1000"/>
</g>
<g class="h" font-size="11.4">
<text x="1014.6" y="280.0">36</text>
<text x="1014.6" y="330.0">33</text>
<text x="1014.6" y="380.0">30</text>
<text x="1014.6" y="430.0">27</text>
<text x="1014.6" y="480.0">24</text>
<text x="1014.6" y="530.0">21</text>
<text x="1014.6" y="580.0">18</text>
</g>
<text class="h" transform="translate(1055.1,470) rotate(-90)" font-size="13.8" font-weight="bold" textLength="88" lengthAdjust="spacingAndGlyphs">Salinity (psu)</text>
</svg></body></html>
